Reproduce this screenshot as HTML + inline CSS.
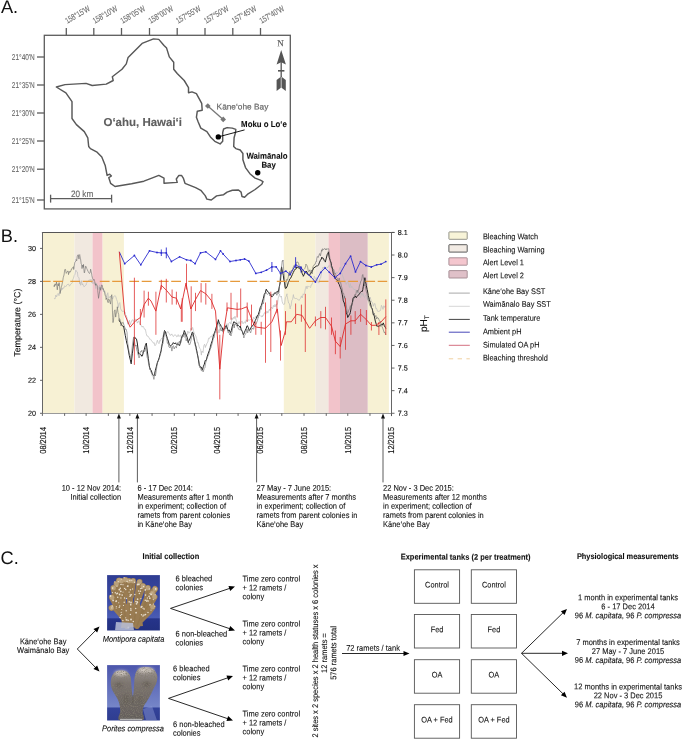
<!DOCTYPE html>
<html><head><meta charset="utf-8"><style>
html,body{margin:0;padding:0;background:#fff;}
svg{display:block;font-family:"Liberation Sans", sans-serif;will-change:transform;}
text{stroke:currentColor;stroke-width:0.13px;}
</style></head><body>
<svg width="685" height="742" viewBox="0 0 685 742">
<rect width="685" height="742" fill="#fff"/>
<text transform="translate(0.9,12.9) rotate(0.03)" font-size="18.2" fill="#111" color="#111" style="stroke:none">A.</text>
<text transform="translate(0.8,242.1) rotate(0.03)" font-size="18.2" fill="#111" color="#111" style="stroke:none">B.</text>
<text transform="translate(0.5,564.1) rotate(0.03)" font-size="18.2" fill="#111" color="#111" style="stroke:none">C.</text>
<rect x="44.3" y="35.3" width="246" height="173.6" fill="none" stroke="#5c5c5c" stroke-width="1.3"/>
<line x1="66.3" y1="28" x2="66.3" y2="35.3" stroke="#5c5c5c" stroke-width="1.3" />
<text transform="translate(67.2,23.8) rotate(-30) rotate(0.03)" font-size="8.4" fill="#666" style="stroke-width:0.1px" textLength="27" lengthAdjust="spacingAndGlyphs" color="#666">158°15'W</text>
<line x1="93.8" y1="28" x2="93.8" y2="35.3" stroke="#5c5c5c" stroke-width="1.3" />
<text transform="translate(94.7,23.8) rotate(-30) rotate(0.03)" font-size="8.4" fill="#666" style="stroke-width:0.1px" textLength="27" lengthAdjust="spacingAndGlyphs" color="#666">158°10'W</text>
<line x1="121.5" y1="28" x2="121.5" y2="35.3" stroke="#5c5c5c" stroke-width="1.3" />
<text transform="translate(122.4,23.8) rotate(-30) rotate(0.03)" font-size="8.4" fill="#666" style="stroke-width:0.1px" textLength="27" lengthAdjust="spacingAndGlyphs" color="#666">158°05'W</text>
<line x1="149.5" y1="28" x2="149.5" y2="35.3" stroke="#5c5c5c" stroke-width="1.3" />
<text transform="translate(150.4,23.8) rotate(-30) rotate(0.03)" font-size="8.4" fill="#666" style="stroke-width:0.1px" textLength="27" lengthAdjust="spacingAndGlyphs" color="#666">158°00'W</text>
<line x1="177.2" y1="28" x2="177.2" y2="35.3" stroke="#5c5c5c" stroke-width="1.3" />
<text transform="translate(178.1,23.8) rotate(-30) rotate(0.03)" font-size="8.4" fill="#666" style="stroke-width:0.1px" textLength="27" lengthAdjust="spacingAndGlyphs" color="#666">157°55'W</text>
<line x1="205" y1="28" x2="205" y2="35.3" stroke="#5c5c5c" stroke-width="1.3" />
<text transform="translate(205.9,23.8) rotate(-30) rotate(0.03)" font-size="8.4" fill="#666" style="stroke-width:0.1px" textLength="27" lengthAdjust="spacingAndGlyphs" color="#666">157°50'W</text>
<line x1="232.8" y1="28" x2="232.8" y2="35.3" stroke="#5c5c5c" stroke-width="1.3" />
<text transform="translate(233.70000000000002,23.8) rotate(-30) rotate(0.03)" font-size="8.4" fill="#666" style="stroke-width:0.1px" textLength="27" lengthAdjust="spacingAndGlyphs" color="#666">157°45'W</text>
<line x1="260.5" y1="28" x2="260.5" y2="35.3" stroke="#5c5c5c" stroke-width="1.3" />
<text transform="translate(261.4,23.8) rotate(-30) rotate(0.03)" font-size="8.4" fill="#666" style="stroke-width:0.1px" textLength="27" lengthAdjust="spacingAndGlyphs" color="#666">157°40'W</text>
<line x1="37" y1="57" x2="44.3" y2="57" stroke="#5c5c5c" stroke-width="1.3" />
<text transform="translate(34.8,60.0) rotate(0.03)" font-size="8.5" fill="#666" color="#666" text-anchor="end" textLength="23" lengthAdjust="spacingAndGlyphs" style="stroke-width:0.1px">21°40'N</text>
<line x1="37" y1="85" x2="44.3" y2="85" stroke="#5c5c5c" stroke-width="1.3" />
<text transform="translate(34.8,88.0) rotate(0.03)" font-size="8.5" fill="#666" color="#666" text-anchor="end" textLength="23" lengthAdjust="spacingAndGlyphs" style="stroke-width:0.1px">21°35'N</text>
<line x1="37" y1="113" x2="44.3" y2="113" stroke="#5c5c5c" stroke-width="1.3" />
<text transform="translate(34.8,116.0) rotate(0.03)" font-size="8.5" fill="#666" color="#666" text-anchor="end" textLength="23" lengthAdjust="spacingAndGlyphs" style="stroke-width:0.1px">21°30'N</text>
<line x1="37" y1="141" x2="44.3" y2="141" stroke="#5c5c5c" stroke-width="1.3" />
<text transform="translate(34.8,144.0) rotate(0.03)" font-size="8.5" fill="#666" color="#666" text-anchor="end" textLength="23" lengthAdjust="spacingAndGlyphs" style="stroke-width:0.1px">21°25'N</text>
<line x1="37" y1="169.2" x2="44.3" y2="169.2" stroke="#5c5c5c" stroke-width="1.3" />
<text transform="translate(34.8,172.2) rotate(0.03)" font-size="8.5" fill="#666" color="#666" text-anchor="end" textLength="23" lengthAdjust="spacingAndGlyphs" style="stroke-width:0.1px">21°20'N</text>
<line x1="37" y1="200" x2="44.3" y2="200" stroke="#5c5c5c" stroke-width="1.3" />
<text transform="translate(34.8,203.0) rotate(0.03)" font-size="8.5" fill="#666" color="#666" text-anchor="end" textLength="23" lengthAdjust="spacingAndGlyphs" style="stroke-width:0.1px">21°15'N</text>
<path d="M56.3,87.0 L65.0,84.6 L86.0,83.4 L92.2,85.5 L106.2,84.1 L113.2,80.5 L112.3,76.7 L122.0,69.2 L126.3,63.9 L128.1,57.4 L142.1,43.4 L153.5,38.9 L158.8,39.4 L164.0,45.5 L166.6,48.1 L169.3,56.9 L173.7,62.2 L173.7,69.2 L177.2,73.5 L184.2,80.5 L188.5,87.6 L188.5,92.8 L192,91.9 L196.4,93.7 L201.7,103.3 L202.2,110.3 L197.3,111.2 L196.4,117.3 L198.2,122 L200.8,128.1 L206.9,131.6 L210.4,136.9 L214.8,141.3 L220.1,143.9 L222.7,141.3 L222.7,132.5 L223.6,129 L227.1,127.6 L232.3,128.1 L235.8,129.4 L235.5,132.5 L234.1,137.8 L233.7,146.5 L235.8,148.6 L240.2,150 L242.9,153.5 L242.9,159.7 L245.5,167.6 L249.9,173.7 L255.1,178.1 L260.4,180.2 L263,181.6 L261.8,184.2 L255.1,189.5 L248.1,193.8 L244.6,197.3 L242,196.5 L241.1,192.1 L238.5,190 L232.3,190.3 L227.1,192.1 L223.6,194.7 L216.6,195.9 L211.3,200 L206.9,199.1 L205.2,195.6 L200.8,190.3 L195.6,187.7 L185,183.3 L183.3,178.1 L181.5,175.4 L178.9,175.4 L176.3,179 L177.2,182.4 L164,183.3 L164,178.1 L158.8,175.4 L151.8,178.1 L143.9,181.2 L131.6,183.7 L115,186.5 L110.6,183.3 L108.8,177.7 L111.4,176 L109.7,174.2 L107.1,175.4 L105.3,165.8 L101.8,157 L96.6,151.8 L90.4,148.6 L88.7,146.5 L87.8,137.8 L84.3,131.6 L76.4,124.6 L72,118.5 L72,101.6 L65.9,92.8 L56.3,87.0Z" fill="none" stroke="#585858" stroke-width="1.45" stroke-linejoin="round"/>
<line x1="50.1" y1="198.7" x2="112" y2="198.7" stroke="#5c5c5c" stroke-width="1.3" />
<line x1="50.6" y1="194.7" x2="50.6" y2="202.6" stroke="#5c5c5c" stroke-width="1.3" />
<line x1="111.6" y1="194.7" x2="111.6" y2="202.6" stroke="#5c5c5c" stroke-width="1.3" />
<text transform="translate(71,196.7) rotate(0.03)" font-size="9.4" fill="#666" color="#666" textLength="22.2" lengthAdjust="spacingAndGlyphs" >20 km</text>
<text transform="translate(103.5,126) rotate(0.03)" font-size="11.5" fill="#5e5e5e" color="#5e5e5e" font-weight="bold" textLength="78.5" lengthAdjust="spacingAndGlyphs" >O‘ahu, Hawai‘i</text>
<line x1="207.8" y1="106" x2="223.2" y2="119.4" stroke="#777" stroke-width="1.3" />
<path d="M207.8,103.2 L210.6,106 L207.8,108.8 L205,106Z" fill="#777"/>
<path d="M223.2,116.6 L226,119.4 L223.2,122.2 L220.4,119.4Z" fill="#777"/>
<text transform="translate(216.6,109.5) rotate(0.03)" font-size="8.3" fill="#6a6a6a" color="#6a6a6a" textLength="51.7" lengthAdjust="spacingAndGlyphs" style="stroke-width:0.2px">Kāne‘ohe Bay</text>
<circle cx="218.3" cy="136.9" r="2.7" fill="#000"/>
<line x1="218.3" y1="136.9" x2="244.6" y2="129.9" stroke="#000" stroke-width="0.9" />
<text transform="translate(241.1,126.9) scale(0.9091,1) rotate(0.03)" font-size="8.63" fill="#111" color="#111" style="stroke-width:0.1px" font-weight="bold" >Moku o Lo‘e</text>
<circle cx="257.7" cy="172.8" r="2.7" fill="#000"/>
<text transform="translate(246.4,158.8) scale(0.9091,1) rotate(0.03)" font-size="8.63" fill="#111" color="#111" style="stroke-width:0.1px" font-weight="bold" >Waimānalo</text>
<text transform="translate(261.4,167.8) scale(0.9091,1) rotate(0.03)" font-size="8.63" fill="#111" color="#111" style="stroke-width:0.1px" font-weight="bold" >Bay</text>
<text transform="translate(280.6,46.3) rotate(0.03)" font-size="9" font-family="Liberation Serif, serif" fill="#555" text-anchor="middle" color="#555">N</text>
<path d="M281.2,50 L285.9,64.5 L281.2,62.3 L276.6,64.5Z" fill="#555"/>
<line x1="281.2" y1="62" x2="281.2" y2="78" stroke="#555" stroke-width="1.3" />
<line x1="278" y1="70.8" x2="284.4" y2="70.8" stroke="#555" stroke-width="1.6" />
<path d="M276.6,80 L281.2,76.6 L285.8,80 L285.8,91 L281.2,87.5 L276.6,91Z" fill="#555"/>
<line x1="281.2" y1="77" x2="281.2" y2="88" stroke="#ccc" stroke-width="1" />
<rect x="42.4" y="232.2" width="32.10" height="181.10" fill="#f7f1d4"/>
<rect x="74.5" y="232.2" width="18.00" height="181.10" fill="#f1e9e0"/>
<rect x="92.5" y="232.2" width="10.10" height="181.10" fill="#f2c3ca"/>
<rect x="102.6" y="232.2" width="21.30" height="181.10" fill="#f7f1d4"/>
<rect x="283.8" y="232.2" width="31.70" height="181.10" fill="#f7f1d4"/>
<rect x="315.5" y="232.2" width="13.00" height="181.10" fill="#f1e9e0"/>
<rect x="328.5" y="232.2" width="11.50" height="181.10" fill="#f2c3ca"/>
<rect x="340" y="232.2" width="27.80" height="181.10" fill="#dcbdc5"/>
<rect x="367.8" y="232.2" width="21.10" height="181.10" fill="#f7f1d4"/>
<polyline points="54.2,298.4 54.2,298.3 55.0,299.1 55.8,295.1 56.6,296.9 57.3,294.7 57.4,294.2 58.2,293.4 59.0,295.7 59.7,292.3 59.8,292.3 60.6,290.6 61.4,290.3 62.1,288.0 62.2,289.5 63.0,287.7 63.8,288.3 64.6,285.8 65.4,286.4 65.8,286.8 66.2,286.1 67.0,284.7 67.8,284.4 68.6,284.1 69.4,285.9 69.4,286.2 70.2,285.0 71.0,283.8 71.8,283.4 72.4,282.6 72.6,279.9 73.4,278.4 74.2,275.6 74.2,275.3 75.0,274.3 75.8,270.1 76.1,270.5 76.6,271.6 77.4,272.0 77.9,276.5 78.2,277.0 79.0,277.9 79.7,283.8 79.8,281.8 80.6,285.3 81.4,280.7 82.2,284.9 82.7,283.8 83.0,285.0 83.8,286.1 83.9,286.8 84.6,286.4 85.4,285.4 86.2,285.0 86.4,283.2 87.0,282.4 87.8,281.3 88.6,280.7 88.8,281.4 89.4,279.7 90.2,280.6 91.0,279.2 91.2,280.2 91.8,282.9 92.6,280.4 93.0,283.8 93.4,282.6 94.2,283.4 95.0,282.4 95.8,288.6 96.1,286.2 96.6,283.0 97.4,286.3 98.2,286.3 99.0,289.7 99.8,284.9 100.6,289.5 101.4,287.3 102.1,288.6 102.2,288.5 103.0,289.0 103.8,292.0 104.6,290.7 105.4,293.4 106.2,295.2 107.0,298.5 107.0,295.9 107.8,292.7 108.6,298.4 109.4,297.8 110.2,296.0 111.0,297.3 111.8,296.4 111.8,297.1 112.6,299.1 113.4,296.9 114.2,296.0 115.0,295.7 115.5,295.9 115.8,296.7 116.6,299.5 117.4,301.4 117.9,304.4 118.2,307.8 119.0,303.6 119.8,302.6 120.6,308.8 121.4,310.1 121.5,310.5 122.2,311.4 123.0,310.9 123.8,311.4 124.6,312.5 125.2,312.3 125.4,314.4 126.2,315.2 127.0,318.1 127.8,324.2 127.9,321.8 128.6,322.5 129.4,320.2 130.2,324.8 131.0,322.5 131.8,320.5 132.6,319.6 133.4,321.6 134.2,319.9 135.0,319.5 135.8,319.1 136.5,320.8 136.6,320.2 137.4,323.1 138.2,321.6 139.0,320.8 139.8,324.5 140.6,324.3 141.4,326.1 142.2,327.2 143.0,326.0 143.0,326.2 143.8,327.6 144.6,329.3 145.4,329.4 146.2,333.5 147.0,336.1 147.8,336.0 148.6,337.0 149.4,338.5 149.5,339.1 150.2,338.9 151.0,339.8 151.8,341.3 152.6,341.7 153.4,343.2 154.2,342.6 154.8,345.5 155.0,345.8 155.8,344.8 156.6,342.5 157.4,340.2 158.2,342.8 159.0,343.7 159.8,340.5 160.2,341.2 160.6,339.9 161.4,338.5 162.2,338.9 163.0,335.5 163.8,336.8 164.6,333.8 165.4,334.2 165.6,332.6 166.2,332.9 167.0,332.8 167.8,331.4 168.6,332.9 169.4,333.8 170.2,335.4 171.0,334.8 171.0,335.1 171.8,333.9 172.6,335.6 173.4,336.6 174.2,335.1 175.0,334.8 175.8,335.0 176.6,336.8 177.4,336.5 177.5,335.8 178.2,334.6 179.0,336.6 179.8,335.5 180.6,335.2 181.4,338.2 182.2,337.7 183.0,335.7 183.8,336.9 184.6,337.6 185.0,337.0 185.4,335.6 186.2,335.4 187.0,335.5 187.8,331.1 188.6,332.6 188.6,333.1 189.4,332.8 190.2,331.7 191.0,328.3 191.8,329.8 192.6,327.4 192.9,328.3 193.4,330.6 194.2,333.0 195.0,334.9 195.8,335.9 196.6,338.6 197.2,341.2 197.4,342.9 198.2,342.5 199.0,346.4 199.8,348.4 200.6,349.3 201.4,355.1 201.5,352.0 202.2,351.0 203.0,352.7 203.8,345.7 204.6,344.2 205.4,347.5 205.8,345.5 206.2,345.7 207.0,343.1 207.8,342.1 208.6,338.2 209.4,338.7 210.2,336.8 211.0,336.6 211.8,336.9 212.3,334.8 212.6,334.7 213.4,334.6 214.2,332.6 215.0,332.4 215.8,332.6 216.6,331.6 217.4,333.2 218.2,329.7 218.8,330.5 219.0,333.0 219.8,328.6 220.6,331.1 221.4,328.1 222.2,331.1 223.0,328.6 223.8,328.6 224.6,328.6 225.4,326.3 226.2,325.3 227.0,323.6 227.4,326.2 227.8,327.4 228.6,323.6 229.4,322.7 230.2,322.4 231.0,324.1 231.8,317.8 232.6,319.5 233.4,317.5 233.8,317.5 234.2,318.6 235.0,316.2 235.8,318.9 236.6,321.5 237.4,323.3 238.2,324.1 239.0,321.5 239.8,323.6 240.3,324.0 240.6,323.7 241.4,321.6 242.2,321.1 243.0,323.8 243.8,322.7 244.6,321.8 245.0,321.8 245.4,323.3 246.2,319.8 247.0,321.5 247.8,320.4 248.6,319.9 249.4,320.3 250.2,319.4 251.0,319.2 251.8,318.8 252.6,320.7 253.4,317.2 253.6,317.5 254.2,318.8 255.0,318.0 255.8,316.5 256.6,317.9 257.4,315.4 258.2,318.0 259.0,315.0 259.8,315.3 260.6,316.2 261.4,316.8 262.2,315.4 262.2,316.7 263.0,316.1 263.8,314.1 264.6,312.5 265.4,314.1 266.2,313.2 267.0,310.9 267.8,313.1 268.6,311.4 268.7,311.1 269.4,309.2 270.2,310.6 271.0,307.5 271.8,307.5 272.6,308.7 273.4,305.4 274.2,307.0 275.0,304.4 275.8,306.8 276.6,304.1 277.3,304.6 277.4,304.4 278.2,298.1 279.0,295.8 279.5,293.8 279.8,295.9 280.6,297.2 281.4,296.0 282.2,301.9 283.0,303.8 283.8,304.6 283.8,304.1 284.6,303.9 285.4,297.7 286.2,296.4 287.0,293.8 287.0,295.4 287.8,299.4 288.6,303.1 289.4,303.6 290.2,308.9 290.2,306.4 291.0,306.3 291.8,300.6 292.6,299.3 293.4,294.6 293.5,296.0 294.2,298.1 295.0,298.3 295.8,298.6 296.6,298.5 297.4,299.2 298.2,299.4 298.8,300.3 299.0,300.5 299.8,299.2 300.6,298.3 301.4,295.9 302.2,297.9 303.0,294.5 303.2,293.8 303.8,294.7 304.6,293.2 305.4,288.7 306.2,286.2 307.0,288.9 307.5,286.3 307.8,285.9 308.6,286.8 309.4,286.6 310.2,287.4 310.7,287.4 311.0,285.1 311.8,284.8 312.6,282.5 313.4,281.3 314.2,276.2 315.0,277.7 315.0,278.8 315.8,279.4 316.6,277.7 317.4,280.3 318.2,282.5 318.6,283.1 319.0,282.6 319.8,278.9 320.6,278.0 321.4,273.3 322.2,269.1 322.9,268.0 323.0,267.0 323.8,268.7 324.6,266.6 325.4,268.3 326.2,268.3 327.0,267.4 327.8,267.8 328.6,265.8 329.4,265.8 329.4,265.8 330.2,265.9 331.0,266.8 331.8,266.5 332.6,268.8 333.4,269.1 334.2,269.5 335.0,272.7 335.8,273.4 335.8,274.0 336.6,271.9 337.4,273.4 338.2,271.8 339.0,270.9 339.8,267.6 340.2,268.0 340.6,267.1 341.4,272.2 342.2,274.1 343.0,277.0 343.8,278.8 344.6,282.3 345.4,282.4 345.5,283.1 346.2,284.4 347.0,282.7 347.8,281.2 348.6,284.3 349.4,287.5 350.2,283.5 350.9,286.3 351.0,287.8 351.8,286.2 352.6,287.4 353.4,288.9 354.2,289.9 355.0,289.0 355.8,291.4 356.3,291.7 356.6,292.5 357.4,293.5 358.2,291.8 359.0,295.5 359.8,296.4 360.6,297.6 361.4,292.8 361.7,294.9 362.2,295.4 363.0,293.1 363.8,296.7 364.6,297.4 365.4,295.6 366.2,295.4 367.0,298.4 367.1,298.2 367.8,299.6 368.6,298.3 369.4,299.7 370.2,297.2 371.0,300.4 371.8,302.2 372.5,302.6 372.6,303.0 373.4,306.3 374.2,303.8 375.0,303.5 375.8,308.6 376.6,308.4 377.4,311.0 377.8,311.2 378.2,311.8 379.0,310.8 379.8,311.2 380.6,310.3 381.4,305.3 382.1,306.9 382.2,306.8 383.0,309.4 383.8,305.7 384.6,307.4 385.3,305.8" fill="none" stroke="#bdbdbd" stroke-width="0.7" stroke-linejoin="round" />
<polyline points="119.3,320.1 119.3,320.8 120.3,322.2 121.3,324.2 122.3,325.6 123.3,326.7 123.6,326.2 124.3,330.0 125.3,335.6 126.3,340.5 126.8,343.4 127.3,344.8 128.3,350.0 129.3,355.7 130.3,359.8 131.2,363.8 131.3,362.7 132.3,353.8 133.3,346.1 134.3,337.3 134.4,336.9 135.3,337.9 136.3,339.2 136.5,339.1 137.3,343.0 138.3,351.4 138.7,354.2 139.3,353.6 140.3,354.6 141.3,355.0 141.9,356.3 142.3,355.9 143.3,352.6 144.3,349.4 145.3,345.6 146.2,343.4 146.3,343.1 147.3,351.0 148.3,358.6 149.3,365.6 149.5,367.1 150.3,369.2 151.3,370.5 152.3,374.0 153.3,375.2 153.8,375.7 154.3,375.3 155.3,370.6 156.3,366.8 157.3,362.8 158.1,360.6 158.3,360.5 159.3,357.3 160.3,353.3 161.3,350.1 161.3,349.8 162.3,343.6 163.3,337.4 164.3,331.5 164.5,330.5 165.3,331.4 166.3,334.8 167.3,338.3 168.3,341.1 169.3,344.6 169.9,345.5 170.3,345.8 171.3,345.2 172.3,344.6 173.3,342.6 174.3,343.8 175.3,342.8 175.3,343.4 176.3,344.2 177.3,344.2 178.3,344.6 179.3,345.0 179.6,345.5 180.3,343.1 181.3,338.7 182.3,335.8 183.3,334.5 184.3,330.8 184.3,330.5 185.3,332.7 186.3,335.2 187.3,337.7 188.3,342.7 188.6,341.2 189.3,340.2 190.3,337.8 191.3,335.3 192.3,332.1 192.9,332.6 193.3,334.5 194.3,340.0 195.3,344.2 196.2,347.7 196.3,348.5 197.3,353.6 198.3,358.9 199.3,365.5 199.4,366.0 200.3,366.6 201.3,367.1 202.3,370.0 202.6,369.2 203.3,366.7 204.3,364.2 205.3,360.3 205.8,360.6 206.3,360.3 207.3,356.1 208.3,353.2 209.3,350.5 210.2,347.7 210.3,346.8 211.3,343.4 212.3,340.5 213.3,336.2 214.3,333.5 214.5,332.6 215.3,330.7 216.3,327.0 217.3,324.1 218.3,320.4 218.3,319.7 219.3,323.2 220.3,324.4 221.3,326.7 222.3,327.9 223.1,330.5 223.3,330.1 224.3,328.4 225.3,327.5 226.3,325.5 226.3,326.2 227.3,327.9 228.3,331.0 229.3,330.1 230.3,332.5 230.6,332.6 231.3,330.7 232.3,326.3 233.3,323.3 233.8,321.8 234.3,321.8 235.3,323.1 236.3,323.0 237.1,324.0 237.3,325.9 238.3,325.4 239.3,326.3 240.3,327.7 240.3,326.2 241.3,329.8 242.3,331.5 243.3,334.5 243.5,334.8 244.3,332.7 245.3,330.3 246.3,328.2 246.8,326.2 247.3,325.7 248.3,327.6 249.3,330.3 249.3,330.5 250.3,329.3 251.3,327.1 252.3,325.8 253.3,325.2 253.6,324.0 254.3,323.1 255.3,320.5 256.3,318.4 257.3,315.6 257.9,315.4 258.3,314.5 259.3,311.3 260.3,307.5 261.3,305.5 262.2,302.5 262.3,301.9 263.3,298.6 264.3,294.3 265.3,292.8 266.1,289.5 266.3,289.2 267.3,291.1 268.3,292.2 269.3,292.8 269.8,293.8 270.3,294.5 271.3,296.0 271.9,297.1 272.3,296.4 273.3,295.4 274.3,293.5 275.2,292.8 275.3,293.2 276.3,292.5 277.3,291.2 278.3,292.0 278.4,291.7 279.3,286.7 280.3,282.2 280.5,280.9 281.3,269.0 281.6,266.9 282.3,271.2 283.3,275.2 283.8,279.8 284.3,281.5 285.3,288.2 285.9,288.5 286.3,288.0 287.3,285.9 288.3,282.4 289.2,280.9 289.3,279.8 290.3,278.6 291.3,276.9 292.3,274.6 292.4,274.5 293.3,272.4 294.3,270.5 295.3,269.0 296.3,268.7 296.7,266.9 297.3,267.3 298.3,267.7 299.3,268.4 299.9,269.1 300.3,269.1 301.3,270.8 302.3,273.8 303.2,275.5 303.3,276.3 304.3,274.3 305.3,271.7 306.3,272.4 306.4,271.2 307.3,272.6 308.3,275.0 309.3,275.0 309.6,275.5 310.3,273.4 311.3,272.9 312.3,271.1 313.3,268.8 314.3,267.4 314.3,268.0 315.3,266.9 316.3,265.9 317.3,266.2 318.3,265.2 318.6,264.8 319.3,262.8 320.3,260.5 321.3,259.0 321.8,257.2 322.3,258.1 323.3,258.3 324.3,260.6 325.1,261.5 325.3,262.1 326.3,258.1 327.3,254.2 328.3,252.9 328.3,251.8 329.3,257.9 330.3,260.6 331.3,263.3 331.5,265.8 332.3,267.7 333.3,273.6 334.3,275.8 334.8,277.7 335.3,278.7 336.3,279.6 337.3,280.3 338.0,280.9 338.3,282.9 339.3,284.6 340.3,287.5 341.2,289.5 341.3,290.2 342.3,294.8 343.3,300.9 344.3,303.0 344.5,304.6 345.3,307.0 346.3,312.7 347.3,315.1 347.7,317.5 348.3,316.8 349.3,314.4 349.8,314.3 350.3,312.6 351.3,307.0 352.3,302.6 353.1,298.2 353.3,297.7 354.3,297.7 355.3,295.9 356.3,297.7 356.3,297.1 357.3,296.4 358.3,295.1 359.3,294.1 359.5,293.8 360.3,292.5 361.3,291.4 362.3,291.5 362.8,289.5 363.3,286.3 364.3,280.8 364.9,277.7 365.3,280.4 366.3,285.4 367.1,289.5 367.3,289.9 368.3,295.6 369.3,299.7 370.3,302.3 370.3,302.5 371.3,307.5 372.3,308.9 373.3,314.7 373.5,314.3 374.3,316.1 375.3,321.1 376.3,324.3 376.8,326.2 377.3,326.0 378.3,326.7 379.3,325.6 379.9,326.3 380.3,325.4 381.3,324.2 382.3,325.1 383.2,323.1 383.3,322.9 384.3,325.7 385.3,327.3 385.8,328.5" fill="none" stroke="#1a1a1a" stroke-width="0.95" stroke-linejoin="round" />
<polyline points="54.2,285.0 54.2,286.8 55.0,283.9 55.7,285.4 56.1,283.8 56.5,282.1 57.2,289.1 57.3,289.8 58.0,283.8 58.7,285.9 59.1,282.6 59.5,285.7 60.2,293.5 60.3,292.3 61.0,288.2 61.5,286.2 61.7,286.0 62.5,282.0 62.7,281.4 63.2,277.8 63.9,275.3 64.0,275.3 64.7,269.7 65.2,269.2 65.5,269.4 66.2,273.3 66.4,272.9 67.0,272.4 67.7,271.0 68.2,271.1 68.5,274.6 69.2,271.9 70.0,271.4 70.0,272.3 70.7,271.3 71.5,269.0 71.8,269.2 72.2,268.1 73.0,267.1 73.6,266.8 73.7,269.5 74.5,263.9 74.8,262.6 75.2,261.9 76.0,260.9 76.1,259.5 76.7,260.7 77.3,255.9 77.5,255.5 78.2,254.7 79.0,259.1 79.1,255.3 79.7,254.6 80.3,258.3 80.5,258.5 81.2,263.9 81.5,264.4 82.0,268.6 82.7,265.0 83.3,267.4 83.5,264.4 84.2,272.5 84.5,272.9 85.0,269.8 85.7,266.1 85.8,266.2 86.5,268.2 87.0,268.6 87.2,269.4 88.0,271.3 88.7,272.0 88.8,272.9 89.5,273.5 90.2,272.3 90.6,269.2 91.0,271.0 91.7,274.1 91.8,275.3 92.5,278.2 93.2,279.8 93.6,280.2 94.0,279.3 94.7,281.6 95.5,285.3 95.5,283.8 96.2,284.6 97.0,285.2 97.3,286.2 97.7,290.6 98.5,297.7 98.5,298.3 99.2,294.1 99.7,291.1 100.0,287.4 100.7,290.3 101.5,285.5 101.5,285.0 102.2,285.1 103.0,289.4 103.3,288.6 103.7,290.2 104.5,292.0 105.2,295.7 105.8,295.9 106.0,299.5 106.7,298.1 107.5,300.8 108.2,302.7 108.2,299.5 109.0,299.1 109.7,301.0 110.5,304.1 110.6,303.2 111.2,296.4 111.8,294.7 112.0,297.8 112.7,317.6 113.0,322.6 113.5,320.1 114.2,312.6 114.2,311.7 115.0,309.8 115.7,317.1 116.1,314.1 116.5,312.8 117.2,308.6 117.3,306.8 118.0,312.4 118.7,314.6 119.1,320.2 119.5,318.6 120.2,320.0 121.0,325.9 121.5,323.8 121.7,322.4 122.5,322.8 123.2,322.3 123.3,322.6 123.3,322.6 124.0,325.2 124.7,327.2 125.5,328.9 126.0,330.0 126.2,329.6 127.0,332.4 127.7,343.0 128.0,345.0 128.4,347.7 129.2,352.8 129.9,354.6 130.7,357.6 131.0,360.0 131.4,356.7 132.2,347.1 132.9,341.3 133.5,338.0 133.7,337.1 134.4,341.1 135.2,345.9 135.9,346.0 136.0,345.0 136.7,349.7 137.4,351.6 138.2,355.0 138.9,357.1 139.0,358.0 139.7,356.2 140.4,351.5 141.2,351.8 141.9,350.2 142.0,352.0 142.7,352.6 143.4,351.5 144.2,351.5 144.9,351.4 145.7,347.8 146.0,348.0 146.4,352.1 147.2,357.5 147.9,358.7 148.7,364.5 149.4,366.7 150.0,370.0 150.2,368.0 150.9,372.3 151.7,372.6 152.4,375.7 153.2,376.5 153.9,379.4 154.0,379.0 154.7,372.8 155.4,376.0 156.2,371.7 156.9,365.9 157.7,361.9 158.0,362.0 158.4,360.5 159.2,359.0 159.9,356.1 160.7,353.6 161.0,352.0 161.4,346.7 162.2,344.1 162.9,344.0 163.7,338.5 164.4,332.0 164.5,334.0 165.2,334.5 165.9,335.5 166.7,338.1 167.4,343.3 168.2,343.1 168.9,347.0 169.7,347.5 170.0,348.0 170.4,345.6 171.2,346.8 171.9,351.1 172.7,346.3 173.4,345.7 174.2,349.0 174.9,347.1 175.0,347.0 175.7,346.4 176.4,348.1 177.2,342.6 177.9,345.3 178.7,342.4 179.4,341.3 180.0,343.0 180.2,341.3 180.9,342.6 181.7,339.0 182.4,334.7 183.2,334.2 183.9,336.6 184.5,333.0 184.7,335.1 185.4,333.7 186.2,340.9 186.9,338.4 187.7,339.0 188.4,342.4 189.0,344.0 189.2,345.0 189.9,344.3 190.7,341.8 191.4,337.8 192.2,335.9 192.9,332.9 193.0,335.0 193.7,338.2 194.4,340.9 195.2,345.6 195.9,346.8 196.0,349.0 196.7,351.5 197.4,354.5 198.2,357.6 198.9,361.2 199.7,365.0 200.0,368.0 200.4,366.8 201.2,370.5 201.9,370.8 202.7,369.6 203.0,372.0 203.4,371.3 204.2,368.4 204.9,367.7 205.7,362.7 206.0,362.0 206.4,360.3 207.2,357.3 207.9,356.3 208.7,354.7 209.4,351.9 210.0,350.0 210.2,349.0 210.9,347.9 211.7,344.9 212.4,342.8 213.2,338.6 213.9,338.0 214.5,336.0 214.7,333.7 215.4,331.2 216.2,330.0 216.9,330.2 217.7,325.7 218.3,322.0 218.4,322.3 219.2,323.6 219.9,327.0 220.7,329.2 221.4,330.6 222.2,330.0 222.9,332.2 223.0,332.0 223.7,330.8 224.4,330.1 225.2,328.5 225.9,328.7 226.0,329.0 226.7,326.7 227.4,329.2 228.2,332.7 228.9,331.7 229.7,335.0 230.4,333.2 231.0,336.0 231.2,334.6 231.9,332.8 232.7,327.6 233.4,325.1 234.0,324.0 234.2,328.0 234.9,323.7 235.7,324.3 236.4,325.2 237.2,326.7 237.9,327.3 238.7,329.4 239.4,329.8 240.0,329.0 240.2,328.8 240.9,330.4 241.7,330.2 242.4,331.6 243.2,334.3 243.9,338.0 244.0,337.0 244.7,335.3 245.4,334.4 246.2,332.6 246.9,328.9 247.0,329.0 247.7,332.9 248.4,329.6 249.2,330.2 249.9,331.3 250.0,332.0 250.7,332.9 251.4,330.0 252.2,328.1 252.9,329.0 253.7,329.1 254.0,327.0 254.4,325.8 255.2,323.9 255.9,324.3 256.7,322.4 257.4,320.7 258.0,318.0 258.2,316.2 258.9,315.3 259.7,313.0 260.4,307.3 261.2,309.4 261.9,305.3 262.0,305.0 262.7,302.2 263.4,303.8 264.2,298.1 264.9,294.3 265.7,292.9 266.0,292.0 266.4,293.3 267.2,294.4 267.9,293.9 268.7,293.4 269.4,294.4 270.0,296.0 270.2,294.7 270.9,294.0 271.7,295.3 272.4,294.3 273.2,294.8 273.9,293.2 274.7,292.8 275.0,294.0 275.4,293.6 276.2,293.2 276.9,295.3 277.7,291.9 278.4,293.5 279.0,293.0 279.2,290.6 279.9,280.1 280.7,274.6 281.0,270.0 281.4,268.0 282.2,260.8 282.9,261.2 283.0,260.0 283.7,270.2 284.4,276.9 285.0,285.0 285.2,287.1 285.9,283.1 286.7,279.4 287.4,280.3 288.2,277.2 288.9,274.1 289.0,276.0 289.7,271.3 290.4,273.5 291.2,270.5 291.9,271.1 292.0,270.0 292.7,269.4 293.4,266.7 294.2,265.4 294.9,267.7 295.7,266.3 296.4,263.6 296.7,262.0 297.2,262.1 297.9,262.0 298.7,263.8 299.4,267.9 300.0,266.0 300.2,267.1 300.9,267.5 301.7,267.5 302.4,271.2 303.0,272.0 303.2,270.1 303.9,269.5 304.7,268.6 305.4,267.1 306.0,264.0 306.2,264.6 306.9,265.4 307.7,267.7 308.4,271.7 309.2,271.0 309.9,269.8 310.0,272.0 310.7,273.2 311.4,270.0 312.2,273.8 312.9,266.5 313.7,265.9 314.4,264.4 315.2,264.2 315.9,261.5 316.5,261.5 316.7,258.8 317.4,256.5 318.2,257.5 318.9,255.3 319.7,253.5 320.4,255.9 321.2,252.2 321.8,249.7 321.9,251.3 322.7,248.7 323.4,249.7 324.2,248.8 324.9,248.6 325.7,249.9 326.2,248.6 326.4,249.5 327.2,249.1 327.9,248.8 328.3,248.6 328.7,248.8 329.4,254.4 330.2,260.7 330.9,264.1 331.5,268.0 331.7,267.1 332.4,270.0 333.2,269.2 333.9,270.7 334.7,274.2 335.4,273.4 335.8,274.5 336.2,277.5 336.9,277.5 337.7,279.4 338.4,281.4 339.2,277.9 339.9,282.5 340.2,283.1 340.7,282.6 341.4,286.1 342.2,288.9 342.9,293.2 343.7,293.5 344.4,298.3 344.5,296.0 345.2,299.0 345.9,303.7 346.7,308.0 347.4,313.3 347.7,313.2 348.2,312.1 348.9,309.8 349.7,308.7 350.4,305.6 350.9,306.8 351.2,307.9 351.9,304.9 352.7,302.3 353.4,299.9 354.2,296.4 354.9,294.5 355.0,295.0 355.7,295.1 356.4,291.4 357.2,290.1 357.9,292.5 358.0,290.0 358.7,290.1 359.4,285.8 360.2,283.7 360.9,280.8 361.7,280.2 362.4,275.0 362.8,274.5 363.2,276.5 363.9,280.7 364.7,285.8 365.0,285.0 365.4,286.8 366.2,291.1 366.9,293.6 367.7,296.9 368.2,300.3 368.4,299.9 369.2,302.8 369.9,305.8 370.7,305.1 371.4,307.1 372.2,309.1 372.9,312.0 373.7,314.3 374.4,313.2 374.6,315.4 375.2,316.6 375.9,315.5 376.7,319.0 377.4,317.3 378.2,318.0 378.9,319.5 379.7,321.4 380.0,321.8 380.4,321.3 381.2,324.9 381.9,326.5 382.7,328.1 383.4,330.1 384.2,332.7 384.9,332.0 385.7,334.8 385.8,335.0" fill="none" stroke="#6a6a6a" stroke-width="0.7" stroke-linejoin="round" opacity="0.85"/>
<line x1="42.4" y1="281.3" x2="387.2" y2="281.3" stroke="#e69a3c" stroke-width="1.2" stroke-dasharray="9.8 2.6 9.8 7.3" stroke-dashoffset="1.6"/>
<polyline points="119.3,251.8 124.7,263.7 134.4,255.5 140.8,264.8 149.5,250.8 157.0,252.5 161.3,252.9 166.3,252.9 171.4,261.5 179.6,256.8 186.5,259.8 190.8,260.5 195.1,263.7 200.5,252.9 205.8,251.8 215.5,259.4 220.5,250.8 223.1,254.0 230.0,261.5 236.0,260.5 240.3,259.8 244.6,259.0 248.9,261.1 255.8,273.4 261.2,272.3 266.5,270.2 271.9,266.9 276.2,266.9 280.5,273.4 285.9,271.2 290.2,274.5 295.6,264.8 301.0,268.0 305.3,272.3 310.7,276.6 315.4,282.0 320.8,272.3 325.1,268.0 329.4,272.3 334.8,277.7 340.2,273.4 345.5,263.7 350.6,256.2 355.5,271.9 360.5,261.6 365.9,265.5 371.3,267.0 376.7,264.8 381.0,264.2 385.8,261.6" fill="none" stroke="#2b2bd0" stroke-width="0.9" stroke-linejoin="round" />
<circle cx="124.7" cy="263.7" r="0.9" fill="#2b2bd0"/>
<circle cx="134.4" cy="255.5" r="0.9" fill="#2b2bd0"/>
<circle cx="140.8" cy="264.8" r="0.9" fill="#2b2bd0"/>
<circle cx="149.5" cy="250.8" r="0.9" fill="#2b2bd0"/>
<circle cx="157" cy="252.5" r="0.9" fill="#2b2bd0"/>
<circle cx="161.3" cy="252.9" r="0.9" fill="#2b2bd0"/>
<circle cx="166.3" cy="252.9" r="0.9" fill="#2b2bd0"/>
<circle cx="171.4" cy="261.5" r="0.9" fill="#2b2bd0"/>
<circle cx="179.6" cy="256.8" r="0.9" fill="#2b2bd0"/>
<circle cx="186.5" cy="259.8" r="0.9" fill="#2b2bd0"/>
<circle cx="190.8" cy="260.5" r="0.9" fill="#2b2bd0"/>
<circle cx="195.1" cy="263.7" r="0.9" fill="#2b2bd0"/>
<circle cx="200.5" cy="252.9" r="0.9" fill="#2b2bd0"/>
<circle cx="205.8" cy="251.8" r="0.9" fill="#2b2bd0"/>
<circle cx="215.5" cy="259.4" r="0.9" fill="#2b2bd0"/>
<circle cx="220.5" cy="250.8" r="0.9" fill="#2b2bd0"/>
<circle cx="223.1" cy="254" r="0.9" fill="#2b2bd0"/>
<circle cx="230" cy="261.5" r="0.9" fill="#2b2bd0"/>
<circle cx="236" cy="260.5" r="0.9" fill="#2b2bd0"/>
<circle cx="240.3" cy="259.8" r="0.9" fill="#2b2bd0"/>
<circle cx="244.6" cy="259" r="0.9" fill="#2b2bd0"/>
<circle cx="248.9" cy="261.1" r="0.9" fill="#2b2bd0"/>
<circle cx="255.8" cy="273.4" r="0.9" fill="#2b2bd0"/>
<circle cx="261.2" cy="272.3" r="0.9" fill="#2b2bd0"/>
<circle cx="266.5" cy="270.2" r="0.9" fill="#2b2bd0"/>
<circle cx="271.9" cy="266.9" r="0.9" fill="#2b2bd0"/>
<circle cx="276.2" cy="266.9" r="0.9" fill="#2b2bd0"/>
<circle cx="280.5" cy="273.4" r="0.9" fill="#2b2bd0"/>
<circle cx="285.9" cy="271.2" r="0.9" fill="#2b2bd0"/>
<circle cx="290.2" cy="274.5" r="0.9" fill="#2b2bd0"/>
<circle cx="295.6" cy="264.8" r="0.9" fill="#2b2bd0"/>
<circle cx="301" cy="268" r="0.9" fill="#2b2bd0"/>
<circle cx="305.3" cy="272.3" r="0.9" fill="#2b2bd0"/>
<circle cx="310.7" cy="276.6" r="0.9" fill="#2b2bd0"/>
<circle cx="315.4" cy="282" r="0.9" fill="#2b2bd0"/>
<circle cx="320.8" cy="272.3" r="0.9" fill="#2b2bd0"/>
<circle cx="325.1" cy="268" r="0.9" fill="#2b2bd0"/>
<circle cx="329.4" cy="272.3" r="0.9" fill="#2b2bd0"/>
<circle cx="334.8" cy="277.7" r="0.9" fill="#2b2bd0"/>
<circle cx="340.2" cy="273.4" r="0.9" fill="#2b2bd0"/>
<circle cx="345.5" cy="263.7" r="0.9" fill="#2b2bd0"/>
<circle cx="350.6" cy="256.2" r="0.9" fill="#2b2bd0"/>
<circle cx="355.5" cy="271.9" r="0.9" fill="#2b2bd0"/>
<circle cx="360.5" cy="261.6" r="0.9" fill="#2b2bd0"/>
<circle cx="365.9" cy="265.5" r="0.9" fill="#2b2bd0"/>
<circle cx="371.3" cy="267" r="0.9" fill="#2b2bd0"/>
<circle cx="376.7" cy="264.8" r="0.9" fill="#2b2bd0"/>
<circle cx="381" cy="264.2" r="0.9" fill="#2b2bd0"/>
<circle cx="385.8" cy="261.6" r="0.9" fill="#2b2bd0"/>
<line x1="161.3" y1="249.5" x2="161.3" y2="256" stroke="#2b2bd0" stroke-width="0.9" />
<line x1="166.3" y1="247.5" x2="166.3" y2="258.3" stroke="#2b2bd0" stroke-width="0.9" />
<line x1="271.9" y1="262" x2="271.9" y2="272" stroke="#2b2bd0" stroke-width="0.9" />
<line x1="295.6" y1="257.2" x2="295.6" y2="268" stroke="#2b2bd0" stroke-width="0.9" />
<line x1="301" y1="266" x2="301" y2="272.5" stroke="#2b2bd0" stroke-width="0.9" />
<polyline points="119.3,251.8 124.7,314.3 130.1,327.2 135.5,320.8 140.4,317.5 144.1,304.6 148.4,298.2 151.0,301.0 155.9,311.1 161.3,285.2 166.7,290.6 172.1,297.1 176.4,298.2 180.7,309.0 186.0,283.1 190.8,309.0 195.1,300.3 200.5,290.6 205.8,293.8 211.2,300.3 215.5,311.1 219.8,369.2 223.1,334.8 227.4,307.8 237.1,309.4 241.4,308.9 246.8,306.8 249.3,313.2 254.7,326.2 256.8,327.2 265.5,328.3 271.9,321.8 277.3,308.9 281.2,345.5 285.5,330.5 286.4,321.8 291.3,321.8 296.7,314.3 302.1,315.4 309.6,328.3 315.4,320.8 320.8,317.5 325.5,317.5 331.5,326.2 335.4,341.2 340.2,346.6 345.5,324.0 350.9,320.8 355.2,320.8 360.6,314.3 366.4,319.7 371.3,325.3 375.6,325.3 381.0,322.0 385.8,316.6" fill="none" stroke="#dd2a2a" stroke-width="0.9" stroke-linejoin="round" />
<line x1="134.4" y1="277.7" x2="134.4" y2="364.9" stroke="#dd2a2a" stroke-width="0.9" opacity="0.85"/>
<line x1="140.4" y1="309" x2="140.4" y2="325" stroke="#dd2a2a" stroke-width="0.9" opacity="0.85"/>
<line x1="144.1" y1="290.6" x2="144.1" y2="317.5" stroke="#dd2a2a" stroke-width="0.9" opacity="0.85"/>
<line x1="148.4" y1="291.7" x2="148.4" y2="305.7" stroke="#dd2a2a" stroke-width="0.9" opacity="0.85"/>
<line x1="155.9" y1="291.7" x2="155.9" y2="334.8" stroke="#dd2a2a" stroke-width="0.9" opacity="0.85"/>
<line x1="161.3" y1="279.8" x2="161.3" y2="289.5" stroke="#dd2a2a" stroke-width="0.9" opacity="0.85"/>
<line x1="166.3" y1="278.8" x2="166.3" y2="302.5" stroke="#dd2a2a" stroke-width="0.9" opacity="0.85"/>
<line x1="172.1" y1="289.5" x2="172.1" y2="304.6" stroke="#dd2a2a" stroke-width="0.9" opacity="0.85"/>
<line x1="176.4" y1="291.7" x2="176.4" y2="304.6" stroke="#dd2a2a" stroke-width="0.9" opacity="0.85"/>
<line x1="181.3" y1="304.6" x2="181.3" y2="321.8" stroke="#dd2a2a" stroke-width="0.9" opacity="0.85"/>
<line x1="182.2" y1="298.2" x2="182.2" y2="321.8" stroke="#dd2a2a" stroke-width="0.9" opacity="0.85"/>
<line x1="186.5" y1="263.7" x2="186.5" y2="289.5" stroke="#dd2a2a" stroke-width="0.9" opacity="0.85"/>
<line x1="191.2" y1="286.3" x2="191.2" y2="330.5" stroke="#dd2a2a" stroke-width="0.9" opacity="0.85"/>
<line x1="195.5" y1="292.8" x2="195.5" y2="311.1" stroke="#dd2a2a" stroke-width="0.9" opacity="0.85"/>
<line x1="201.1" y1="283.1" x2="201.1" y2="302.5" stroke="#dd2a2a" stroke-width="0.9" opacity="0.85"/>
<line x1="205.8" y1="283.1" x2="205.8" y2="304.6" stroke="#dd2a2a" stroke-width="0.9" opacity="0.85"/>
<line x1="211.9" y1="293.8" x2="211.9" y2="308.9" stroke="#dd2a2a" stroke-width="0.9" opacity="0.85"/>
<line x1="219.8" y1="334.8" x2="219.8" y2="399.4" stroke="#dd2a2a" stroke-width="0.9" opacity="0.85"/>
<line x1="227" y1="302.5" x2="227" y2="311.1" stroke="#dd2a2a" stroke-width="0.9" opacity="0.85"/>
<line x1="231" y1="292.8" x2="231" y2="319.7" stroke="#dd2a2a" stroke-width="0.9" opacity="0.85"/>
<line x1="237.1" y1="302.5" x2="237.1" y2="317.5" stroke="#dd2a2a" stroke-width="0.9" opacity="0.85"/>
<line x1="240.7" y1="288.5" x2="240.7" y2="326.2" stroke="#dd2a2a" stroke-width="0.9" opacity="0.85"/>
<line x1="247.2" y1="302.5" x2="247.2" y2="321.8" stroke="#dd2a2a" stroke-width="0.9" opacity="0.85"/>
<line x1="251.5" y1="304.6" x2="251.5" y2="326.2" stroke="#dd2a2a" stroke-width="0.9" opacity="0.85"/>
<line x1="255.8" y1="321.8" x2="255.8" y2="334.8" stroke="#dd2a2a" stroke-width="0.9" opacity="0.85"/>
<line x1="261.2" y1="321.8" x2="261.2" y2="334.8" stroke="#dd2a2a" stroke-width="0.9" opacity="0.85"/>
<line x1="265.5" y1="302.5" x2="265.5" y2="362.8" stroke="#dd2a2a" stroke-width="0.9" opacity="0.85"/>
<line x1="270.8" y1="291.7" x2="270.8" y2="352" stroke="#dd2a2a" stroke-width="0.9" opacity="0.85"/>
<line x1="276.9" y1="300.3" x2="276.9" y2="313.2" stroke="#dd2a2a" stroke-width="0.9" opacity="0.85"/>
<line x1="280.5" y1="330.5" x2="280.5" y2="360.6" stroke="#dd2a2a" stroke-width="0.9" opacity="0.85"/>
<line x1="285.5" y1="311.1" x2="285.5" y2="334.8" stroke="#dd2a2a" stroke-width="0.9" opacity="0.85"/>
<line x1="295.6" y1="303.5" x2="295.6" y2="324" stroke="#dd2a2a" stroke-width="0.9" opacity="0.85"/>
<line x1="301.4" y1="304.6" x2="301.4" y2="321.8" stroke="#dd2a2a" stroke-width="0.9" opacity="0.85"/>
<line x1="305.3" y1="293.8" x2="305.3" y2="352" stroke="#dd2a2a" stroke-width="0.9" opacity="0.85"/>
<line x1="315.4" y1="316.5" x2="315.4" y2="326.2" stroke="#dd2a2a" stroke-width="0.9" opacity="0.85"/>
<line x1="320.8" y1="311.1" x2="320.8" y2="328.3" stroke="#dd2a2a" stroke-width="0.9" opacity="0.85"/>
<line x1="325.5" y1="306.8" x2="325.5" y2="329.4" stroke="#dd2a2a" stroke-width="0.9" opacity="0.85"/>
<line x1="331.5" y1="317.5" x2="331.5" y2="334.8" stroke="#dd2a2a" stroke-width="0.9" opacity="0.85"/>
<line x1="335.4" y1="330.5" x2="335.4" y2="354.2" stroke="#dd2a2a" stroke-width="0.9" opacity="0.85"/>
<line x1="340.2" y1="337" x2="340.2" y2="358.5" stroke="#dd2a2a" stroke-width="0.9" opacity="0.85"/>
<line x1="345.5" y1="298.2" x2="345.5" y2="349.8" stroke="#dd2a2a" stroke-width="0.9" opacity="0.85"/>
<line x1="350.9" y1="315.4" x2="350.9" y2="334.8" stroke="#dd2a2a" stroke-width="0.9" opacity="0.85"/>
<line x1="355.2" y1="311.1" x2="355.2" y2="324" stroke="#dd2a2a" stroke-width="0.9" opacity="0.85"/>
<line x1="360.6" y1="309" x2="360.6" y2="321.8" stroke="#dd2a2a" stroke-width="0.9" opacity="0.85"/>
<line x1="366.4" y1="310" x2="366.4" y2="325" stroke="#dd2a2a" stroke-width="0.9" opacity="0.85"/>
<line x1="371.4" y1="322" x2="371.4" y2="330.5" stroke="#dd2a2a" stroke-width="0.9" opacity="0.85"/>
<line x1="378.9" y1="322" x2="378.9" y2="335" stroke="#dd2a2a" stroke-width="0.9" opacity="0.85"/>
<line x1="385.8" y1="299.4" x2="385.8" y2="335" stroke="#dd2a2a" stroke-width="0.9" opacity="0.85"/>
<path d="M41.9,232.5 L394.5,232.5" stroke="#555" stroke-width="1"/>
<path d="M42.5,232.2 L42.5,413.3" fill="none" stroke="#666" stroke-width="1"/>
<path d="M391.5,232.2 L391.5,416.1" fill="none" stroke="#666" stroke-width="1"/>
<path d="M42.4,413.5 L391.5,413.5" fill="none" stroke="#9a9a9a" stroke-width="1"/>
<line x1="40" y1="248.4" x2="42.4" y2="248.4" stroke="#555" stroke-width="0.9" />
<text transform="translate(36,250.9) rotate(0.03)" font-size="7.2" fill="#111" color="#111" text-anchor="end" >30</text>
<line x1="40" y1="281.38" x2="42.4" y2="281.38" stroke="#555" stroke-width="0.9" />
<text transform="translate(36,283.88) rotate(0.03)" font-size="7.2" fill="#111" color="#111" text-anchor="end" >28</text>
<line x1="40" y1="314.36" x2="42.4" y2="314.36" stroke="#555" stroke-width="0.9" />
<text transform="translate(36,316.86) rotate(0.03)" font-size="7.2" fill="#111" color="#111" text-anchor="end" >26</text>
<line x1="40" y1="347.34000000000003" x2="42.4" y2="347.34000000000003" stroke="#555" stroke-width="0.9" />
<text transform="translate(36,349.84000000000003) rotate(0.03)" font-size="7.2" fill="#111" color="#111" text-anchor="end" >24</text>
<line x1="40" y1="380.32" x2="42.4" y2="380.32" stroke="#555" stroke-width="0.9" />
<text transform="translate(36,382.82) rotate(0.03)" font-size="7.2" fill="#111" color="#111" text-anchor="end" >22</text>
<line x1="40" y1="413.29999999999995" x2="42.4" y2="413.29999999999995" stroke="#555" stroke-width="0.9" />
<text transform="translate(36,415.79999999999995) rotate(0.03)" font-size="7.2" fill="#111" color="#111" text-anchor="end" >20</text>
<line x1="391.5" y1="232.4" x2="394.5" y2="232.4" stroke="#555" stroke-width="0.9" />
<text transform="translate(397.8,234.9) rotate(0.03)" font-size="7.2" fill="#111" color="#111" >8.1</text>
<line x1="391.5" y1="255.01" x2="394.5" y2="255.01" stroke="#555" stroke-width="0.9" />
<text transform="translate(397.8,257.51) rotate(0.03)" font-size="7.2" fill="#111" color="#111" >8.0</text>
<line x1="391.5" y1="277.62" x2="394.5" y2="277.62" stroke="#555" stroke-width="0.9" />
<text transform="translate(397.8,280.12) rotate(0.03)" font-size="7.2" fill="#111" color="#111" >7.9</text>
<line x1="391.5" y1="300.23" x2="394.5" y2="300.23" stroke="#555" stroke-width="0.9" />
<text transform="translate(397.8,302.73) rotate(0.03)" font-size="7.2" fill="#111" color="#111" >7.8</text>
<line x1="391.5" y1="322.84000000000003" x2="394.5" y2="322.84000000000003" stroke="#555" stroke-width="0.9" />
<text transform="translate(397.8,325.34000000000003) rotate(0.03)" font-size="7.2" fill="#111" color="#111" >7.7</text>
<line x1="391.5" y1="345.45" x2="394.5" y2="345.45" stroke="#555" stroke-width="0.9" />
<text transform="translate(397.8,347.95) rotate(0.03)" font-size="7.2" fill="#111" color="#111" >7.6</text>
<line x1="391.5" y1="368.06" x2="394.5" y2="368.06" stroke="#555" stroke-width="0.9" />
<text transform="translate(397.8,370.56) rotate(0.03)" font-size="7.2" fill="#111" color="#111" >7.5</text>
<line x1="391.5" y1="390.66999999999996" x2="394.5" y2="390.66999999999996" stroke="#555" stroke-width="0.9" />
<text transform="translate(397.8,393.16999999999996) rotate(0.03)" font-size="7.2" fill="#111" color="#111" >7.4</text>
<line x1="391.5" y1="413.28" x2="394.5" y2="413.28" stroke="#555" stroke-width="0.9" />
<text transform="translate(397.8,415.78) rotate(0.03)" font-size="7.2" fill="#111" color="#111" >7.3</text>
<line x1="42.4" y1="413.3" x2="42.4" y2="415.90000000000003" stroke="#555" stroke-width="0.9" />
<line x1="64.62" y1="413.3" x2="64.62" y2="415.90000000000003" stroke="#555" stroke-width="0.9" />
<line x1="86.12" y1="413.3" x2="86.12" y2="415.90000000000003" stroke="#555" stroke-width="0.9" />
<line x1="108.35" y1="413.3" x2="108.35" y2="415.90000000000003" stroke="#555" stroke-width="0.9" />
<line x1="129.85" y1="413.3" x2="129.85" y2="415.90000000000003" stroke="#555" stroke-width="0.9" />
<line x1="152.07" y1="413.3" x2="152.07" y2="415.90000000000003" stroke="#555" stroke-width="0.9" />
<line x1="174.29" y1="413.3" x2="174.29" y2="415.90000000000003" stroke="#555" stroke-width="0.9" />
<line x1="194.36" y1="413.3" x2="194.36" y2="415.90000000000003" stroke="#555" stroke-width="0.9" />
<line x1="216.58" y1="413.3" x2="216.58" y2="415.90000000000003" stroke="#555" stroke-width="0.9" />
<line x1="238.09" y1="413.3" x2="238.09" y2="415.90000000000003" stroke="#555" stroke-width="0.9" />
<line x1="260.31" y1="413.3" x2="260.31" y2="415.90000000000003" stroke="#555" stroke-width="0.9" />
<line x1="281.81" y1="413.3" x2="281.81" y2="415.90000000000003" stroke="#555" stroke-width="0.9" />
<line x1="304.03" y1="413.3" x2="304.03" y2="415.90000000000003" stroke="#555" stroke-width="0.9" />
<line x1="326.25" y1="413.3" x2="326.25" y2="415.90000000000003" stroke="#555" stroke-width="0.9" />
<line x1="347.76" y1="413.3" x2="347.76" y2="415.90000000000003" stroke="#555" stroke-width="0.9" />
<line x1="369.98" y1="413.3" x2="369.98" y2="415.90000000000003" stroke="#555" stroke-width="0.9" />
<line x1="391.48" y1="413.3" x2="391.48" y2="415.90000000000003" stroke="#555" stroke-width="0.9" />
<text transform="translate(45.6,453.7) rotate(-90) rotate(0.03)" font-size="8.7" fill="#111" textLength="26.8" lengthAdjust="spacingAndGlyphs" color="#111">08/2014</text>
<text transform="translate(88.8,453.7) rotate(-90) rotate(0.03)" font-size="8.7" fill="#111" textLength="26.8" lengthAdjust="spacingAndGlyphs" color="#111">10/2014</text>
<text transform="translate(132.9,453.7) rotate(-90) rotate(0.03)" font-size="8.7" fill="#111" textLength="26.8" lengthAdjust="spacingAndGlyphs" color="#111">12/2014</text>
<text transform="translate(176.9,453.7) rotate(-90) rotate(0.03)" font-size="8.7" fill="#111" textLength="26.8" lengthAdjust="spacingAndGlyphs" color="#111">02/2015</text>
<text transform="translate(220.1,453.7) rotate(-90) rotate(0.03)" font-size="8.7" fill="#111" textLength="26.8" lengthAdjust="spacingAndGlyphs" color="#111">04/2015</text>
<text transform="translate(263.0,453.7) rotate(-90) rotate(0.03)" font-size="8.7" fill="#111" textLength="26.8" lengthAdjust="spacingAndGlyphs" color="#111">06/2015</text>
<text transform="translate(306.8,453.7) rotate(-90) rotate(0.03)" font-size="8.7" fill="#111" textLength="26.8" lengthAdjust="spacingAndGlyphs" color="#111">08/2015</text>
<text transform="translate(350.90000000000003,453.7) rotate(-90) rotate(0.03)" font-size="8.7" fill="#111" textLength="26.8" lengthAdjust="spacingAndGlyphs" color="#111">10/2015</text>
<text transform="translate(393.5,453.7) rotate(-90) rotate(0.03)" font-size="8.7" fill="#111" textLength="26.8" lengthAdjust="spacingAndGlyphs" color="#111">12/2015</text>
<text transform="translate(20.3,356.8) rotate(-90) rotate(0.03)" font-size="8.9" fill="#111" color="#111">Temperature (°C)</text>
<text transform="translate(427,332) rotate(-90) rotate(0.03)" font-size="10" fill="#111" color="#111">pH<tspan font-size="6.5" dy="2">T</tspan></text>
<line x1="118.9" y1="416" x2="118.9" y2="482.4" stroke="#333" stroke-width="0.8" />
<path d="M118.9,413.4 L120.9,418.6 L116.9,418.6Z" fill="#111"/>
<line x1="137.4" y1="416" x2="137.4" y2="482.4" stroke="#333" stroke-width="0.8" />
<path d="M137.4,413.4 L139.4,418.6 L135.4,418.6Z" fill="#111"/>
<line x1="256.6" y1="416" x2="256.6" y2="482.4" stroke="#333" stroke-width="0.8" />
<path d="M256.6,413.4 L258.6,418.6 L254.60000000000002,418.6Z" fill="#111"/>
<line x1="383" y1="416" x2="383" y2="482.4" stroke="#333" stroke-width="0.8" />
<path d="M383,413.4 L385,418.6 L381,418.6Z" fill="#111"/>
<text transform="translate(121.2,490.7) scale(0.9091,1) rotate(0.03)" font-size="8.25" fill="#111" color="#111" style="stroke-width:0.1px" text-anchor="end" >10 - 12 Nov 2014:</text>
<text transform="translate(121.2,499.75) scale(0.9091,1) rotate(0.03)" font-size="8.25" fill="#111" color="#111" style="stroke-width:0.1px" text-anchor="end" >Initial collection</text>
<text transform="translate(137.4,490.7) scale(0.9091,1) rotate(0.03)" font-size="8.25" fill="#111" color="#111" style="stroke-width:0.1px" >6 - 17 Dec 2014:</text>
<text transform="translate(137.4,499.75) scale(0.9091,1) rotate(0.03)" font-size="8.25" fill="#111" color="#111" style="stroke-width:0.1px" >Measurements after 1 month</text>
<text transform="translate(137.4,508.8) scale(0.9091,1) rotate(0.03)" font-size="8.25" fill="#111" color="#111" style="stroke-width:0.1px" >in experiment; collection of</text>
<text transform="translate(137.4,517.85) scale(0.9091,1) rotate(0.03)" font-size="8.25" fill="#111" color="#111" style="stroke-width:0.1px" >ramets from parent colonies</text>
<text transform="translate(137.4,526.9) scale(0.9091,1) rotate(0.03)" font-size="8.25" fill="#111" color="#111" style="stroke-width:0.1px" >in Kāne‘ohe Bay</text>
<text transform="translate(256.6,490.7) scale(0.9091,1) rotate(0.03)" font-size="8.25" fill="#111" color="#111" style="stroke-width:0.1px" >27 May - 7 June 2015:</text>
<text transform="translate(256.6,499.75) scale(0.9091,1) rotate(0.03)" font-size="8.25" fill="#111" color="#111" style="stroke-width:0.1px" >Measurements after 7 months</text>
<text transform="translate(256.6,508.8) scale(0.9091,1) rotate(0.03)" font-size="8.25" fill="#111" color="#111" style="stroke-width:0.1px" >in experiment; collection of</text>
<text transform="translate(256.6,517.85) scale(0.9091,1) rotate(0.03)" font-size="8.25" fill="#111" color="#111" style="stroke-width:0.1px" >ramets from parent colonies in</text>
<text transform="translate(256.6,526.9) scale(0.9091,1) rotate(0.03)" font-size="8.25" fill="#111" color="#111" style="stroke-width:0.1px" >Kāne‘ohe Bay</text>
<text transform="translate(383,490.7) scale(0.9091,1) rotate(0.03)" font-size="8.25" fill="#111" color="#111" style="stroke-width:0.1px" >22 Nov - 3 Dec 2015:</text>
<text transform="translate(383,499.75) scale(0.9091,1) rotate(0.03)" font-size="8.25" fill="#111" color="#111" style="stroke-width:0.1px" >Measurements after 12 months</text>
<text transform="translate(383,508.8) scale(0.9091,1) rotate(0.03)" font-size="8.25" fill="#111" color="#111" style="stroke-width:0.1px" >in experiment; collection of</text>
<text transform="translate(383,517.85) scale(0.9091,1) rotate(0.03)" font-size="8.25" fill="#111" color="#111" style="stroke-width:0.1px" >ramets from parent colonies in</text>
<text transform="translate(383,526.9) scale(0.9091,1) rotate(0.03)" font-size="8.25" fill="#111" color="#111" style="stroke-width:0.1px" >Kāne‘ohe Bay</text>
<rect x="448.9" y="231.9" width="18.3" height="7.4" fill="#f8f4d8" stroke="#8a8a80" stroke-width="0.9" rx="0.5"/>
<rect x="448.9" y="244.70000000000002" width="18.3" height="7.4" fill="#f2ebe4" stroke="#4a4a4a" stroke-width="0.9" rx="0.5"/>
<rect x="448.9" y="257.79999999999995" width="18.3" height="7.4" fill="#f4c6ce" stroke="#a08890" stroke-width="0.9" rx="0.5"/>
<rect x="448.9" y="270.59999999999997" width="18.3" height="7.4" fill="#dfc0c8" stroke="#a08890" stroke-width="0.9" rx="0.5"/>
<text transform="translate(482.9,239.2) scale(0.9091,1) rotate(0.03)" font-size="8.14" fill="#111" color="#111" style="stroke-width:0.1px" >Bleaching Watch</text>
<text transform="translate(482.9,252.5) scale(0.9091,1) rotate(0.03)" font-size="8.14" fill="#111" color="#111" style="stroke-width:0.1px" >Bleaching Warning</text>
<text transform="translate(482.9,265.2) scale(0.9091,1) rotate(0.03)" font-size="8.14" fill="#111" color="#111" style="stroke-width:0.1px" >Alert Level 1</text>
<text transform="translate(482.9,278.3) scale(0.9091,1) rotate(0.03)" font-size="8.14" fill="#111" color="#111" style="stroke-width:0.1px" >Alert Level 2</text>
<text transform="translate(482.9,294.0) scale(0.9091,1) rotate(0.03)" font-size="8.14" fill="#111" color="#111" style="stroke-width:0.1px" >Kāne‘ohe Bay SST</text>
<text transform="translate(482.9,306.8) scale(0.9091,1) rotate(0.03)" font-size="8.14" fill="#111" color="#111" style="stroke-width:0.1px" >Waimānalo Bay SST</text>
<text transform="translate(482.9,320.8) scale(0.9091,1) rotate(0.03)" font-size="8.14" fill="#111" color="#111" style="stroke-width:0.1px" >Tank temperature</text>
<text transform="translate(482.9,334.3) scale(0.9091,1) rotate(0.03)" font-size="8.14" fill="#111" color="#111" style="stroke-width:0.1px" >Ambient pH</text>
<text transform="translate(482.9,347.4) scale(0.9091,1) rotate(0.03)" font-size="8.14" fill="#111" color="#111" style="stroke-width:0.1px" >Simulated OA pH</text>
<text transform="translate(482.9,360.6) scale(0.9091,1) rotate(0.03)" font-size="8.14" fill="#111" color="#111" style="stroke-width:0.1px" >Bleaching threshold</text>
<line x1="448.8" y1="293.1" x2="469.8" y2="293.1" stroke="#a8a8a8" stroke-width="1" />
<line x1="448.8" y1="306.3" x2="469.8" y2="306.3" stroke="#d6d6d6" stroke-width="1" />
<line x1="448.8" y1="319.4" x2="469.8" y2="319.4" stroke="#444" stroke-width="1" />
<line x1="448.8" y1="332.2" x2="469.8" y2="332.2" stroke="#4848b8" stroke-width="1" />
<line x1="448.8" y1="345.3" x2="469.8" y2="345.3" stroke="#d47080" stroke-width="1" />
<line x1="448.8" y1="358.8" x2="469.8" y2="358.8" stroke="#f0d0a0" stroke-width="1" stroke-dasharray="4.4 4.4"/>
<text transform="translate(142.6,558.9) scale(0.9091,1) rotate(0.03)" font-size="8.25" fill="#111" color="#111" style="stroke-width:0.1px" font-weight="bold" >Initial collection</text>
<text transform="translate(400.7,559.6) scale(0.9091,1) rotate(0.03)" font-size="8.25" fill="#111" color="#111" style="stroke-width:0.1px" font-weight="bold" >Experimental tanks (2 per treatment)</text>
<text transform="translate(576.9,559) scale(0.9091,1) rotate(0.03)" font-size="8.14" fill="#111" color="#111" style="stroke-width:0.1px" font-weight="bold" >Physiological measurements</text>
<text transform="translate(43.2,644.2) scale(0.9091,1) rotate(0.03)" font-size="8.25" fill="#111" color="#111" style="stroke-width:0.1px" text-anchor="middle" >Kāne‘ohe Bay</text>
<text transform="translate(43.2,653.0) scale(0.9091,1) rotate(0.03)" font-size="8.25" fill="#111" color="#111" style="stroke-width:0.1px" text-anchor="middle" >Waimānalo Bay</text>
<line x1="77.3" y1="649" x2="95.99" y2="630.06" stroke="#111" stroke-width="0.9" />
<path d="M99.50,626.50 L97.14,632.60 L93.44,628.94Z" fill="#000"/>
<line x1="77.3" y1="649" x2="95.99" y2="667.94" stroke="#111" stroke-width="0.9" />
<path d="M99.50,671.50 L93.44,669.06 L97.14,665.40Z" fill="#000"/>
<defs>
<linearGradient id="bg1" x1="0" y1="0" x2="0" y2="1"><stop offset="0" stop-color="#2f3d92"/><stop offset="0.45" stop-color="#3a4aa4"/><stop offset="0.78" stop-color="#4a5cb4"/><stop offset="0.785" stop-color="#26348a"/><stop offset="1" stop-color="#223080"/></linearGradient>
<linearGradient id="bg2" x1="0" y1="0" x2="0" y2="1"><stop offset="0" stop-color="#4c56ac"/><stop offset="0.76" stop-color="#7686c8"/><stop offset="0.77" stop-color="#33439a"/><stop offset="1" stop-color="#2f3d90"/></linearGradient>
</defs>
<rect x="107.1" y="575.1" width="52.8" height="55.4" fill="url(#bg1)"/>
<g clip-path="url(#cp1)">
<defs><filter id="bl1" x="-20%" y="-20%" width="140%" height="140%"><feGaussianBlur stdDeviation="0.6"/></filter><filter id="bl2" x="-30%" y="-30%" width="160%" height="160%"><feGaussianBlur stdDeviation="1.4"/></filter></defs>
<g filter="url(#bl1)">
<path d="M127,626 L121,612 L115,603 L112,597.5" stroke="#9a7c52" stroke-width="6" stroke-linecap="round" stroke-linejoin="round" fill="none"/>
<path d="M124,618 L114.5,607 L111.6,608" stroke="#9a7c52" stroke-width="6" stroke-linecap="round" stroke-linejoin="round" fill="none"/>
<path d="M121,610 L115,595 L113.5,588" stroke="#9a7c52" stroke-width="6" stroke-linecap="round" stroke-linejoin="round" fill="none"/>
<path d="M118,600 L116.5,584" stroke="#9a7c52" stroke-width="6" stroke-linecap="round" stroke-linejoin="round" fill="none"/>
<path d="M126,622 L123,600 L121.5,581" stroke="#9a7c52" stroke-width="6" stroke-linecap="round" stroke-linejoin="round" fill="none"/>
<path d="M124,596 L119,580.5" stroke="#9a7c52" stroke-width="6" stroke-linecap="round" stroke-linejoin="round" fill="none"/>
<path d="M130,624 L130,600 L129,581" stroke="#9a7c52" stroke-width="6" stroke-linecap="round" stroke-linejoin="round" fill="none"/>
<path d="M129,595 L125.5,580" stroke="#9a7c52" stroke-width="6" stroke-linecap="round" stroke-linejoin="round" fill="none"/>
<path d="M131,596 L133,581" stroke="#9a7c52" stroke-width="6" stroke-linecap="round" stroke-linejoin="round" fill="none"/>
<path d="M134,624 L137,600 L139.5,582" stroke="#9a7c52" stroke-width="6" stroke-linecap="round" stroke-linejoin="round" fill="none"/>
<path d="M136,605 L143,586" stroke="#9a7c52" stroke-width="6" stroke-linecap="round" stroke-linejoin="round" fill="none"/>
<path d="M137,626 L144,608 L150,596 L155,589" stroke="#9a7c52" stroke-width="6" stroke-linecap="round" stroke-linejoin="round" fill="none"/>
<path d="M140,615 L147,598 L147.8,588" stroke="#9a7c52" stroke-width="6" stroke-linecap="round" stroke-linejoin="round" fill="none"/>
<path d="M143,612 L151,603 L154.5,597" stroke="#9a7c52" stroke-width="6" stroke-linecap="round" stroke-linejoin="round" fill="none"/>
<path d="M141,620 L149,612 L152.5,607" stroke="#9a7c52" stroke-width="6" stroke-linecap="round" stroke-linejoin="round" fill="none"/>
<path d="M146,602 L152.5,593" stroke="#9a7c52" stroke-width="6" stroke-linecap="round" stroke-linejoin="round" fill="none"/>
<path d="M121,628 L124,604 L140,604 L143,626Z" fill="#9a7c52"/>
<path d="M127,626 L121,612 L115,603 L112,597.5" stroke="#8c7046" stroke-width="1.2" stroke-linecap="round" fill="none" opacity="0.4"/>
<path d="M124,618 L114.5,607 L111.6,608" stroke="#8c7046" stroke-width="1.2" stroke-linecap="round" fill="none" opacity="0.4"/>
<path d="M121,610 L115,595 L113.5,588" stroke="#8c7046" stroke-width="1.2" stroke-linecap="round" fill="none" opacity="0.4"/>
<path d="M118,600 L116.5,584" stroke="#8c7046" stroke-width="1.2" stroke-linecap="round" fill="none" opacity="0.4"/>
<path d="M126,622 L123,600 L121.5,581" stroke="#8c7046" stroke-width="1.2" stroke-linecap="round" fill="none" opacity="0.4"/>
<path d="M124,596 L119,580.5" stroke="#8c7046" stroke-width="1.2" stroke-linecap="round" fill="none" opacity="0.4"/>
<path d="M130,624 L130,600 L129,581" stroke="#8c7046" stroke-width="1.2" stroke-linecap="round" fill="none" opacity="0.4"/>
<path d="M129,595 L125.5,580" stroke="#8c7046" stroke-width="1.2" stroke-linecap="round" fill="none" opacity="0.4"/>
<path d="M131,596 L133,581" stroke="#8c7046" stroke-width="1.2" stroke-linecap="round" fill="none" opacity="0.4"/>
<path d="M134,624 L137,600 L139.5,582" stroke="#8c7046" stroke-width="1.2" stroke-linecap="round" fill="none" opacity="0.4"/>
<path d="M136,605 L143,586" stroke="#8c7046" stroke-width="1.2" stroke-linecap="round" fill="none" opacity="0.4"/>
<path d="M137,626 L144,608 L150,596 L155,589" stroke="#8c7046" stroke-width="1.2" stroke-linecap="round" fill="none" opacity="0.4"/>
<path d="M140,615 L147,598 L147.8,588" stroke="#8c7046" stroke-width="1.2" stroke-linecap="round" fill="none" opacity="0.4"/>
<path d="M143,612 L151,603 L154.5,597" stroke="#8c7046" stroke-width="1.2" stroke-linecap="round" fill="none" opacity="0.4"/>
<path d="M141,620 L149,612 L152.5,607" stroke="#8c7046" stroke-width="1.2" stroke-linecap="round" fill="none" opacity="0.4"/>
<path d="M146,602 L152.5,593" stroke="#8c7046" stroke-width="1.2" stroke-linecap="round" fill="none" opacity="0.4"/>
<circle cx="112" cy="597.5" r="2.4" fill="#c2aa84" opacity="0.8"/>
<circle cx="128.3" cy="627.5" r="0.88" fill="#efe8da" opacity="0.9"/>
<circle cx="127.7" cy="620.1" r="0.71" fill="#efe8da" opacity="0.9"/>
<circle cx="126.3" cy="619.8" r="0.87" fill="#efe8da" opacity="0.9"/>
<circle cx="120.5" cy="615.3" r="0.64" fill="#efe8da" opacity="0.9"/>
<circle cx="121.2" cy="612.4" r="0.55" fill="#efe8da" opacity="0.9"/>
<circle cx="119.2" cy="607.4" r="0.61" fill="#efe8da" opacity="0.9"/>
<circle cx="116.5" cy="601.1" r="0.77" fill="#efe8da" opacity="0.9"/>
<circle cx="113.1" cy="600.4" r="0.85" fill="#efe8da" opacity="0.9"/>
<circle cx="110.5" cy="596.0" r="0.89" fill="#efe8da" opacity="0.9"/>
<circle cx="111.6" cy="608" r="2.4" fill="#c2aa84" opacity="0.8"/>
<circle cx="122.9" cy="620.4" r="0.74" fill="#efe8da" opacity="0.9"/>
<circle cx="120.1" cy="617.5" r="0.79" fill="#efe8da" opacity="0.9"/>
<circle cx="121.7" cy="614.5" r="0.65" fill="#efe8da" opacity="0.9"/>
<circle cx="116.2" cy="608.0" r="0.60" fill="#efe8da" opacity="0.9"/>
<circle cx="112.2" cy="606.0" r="0.76" fill="#efe8da" opacity="0.9"/>
<circle cx="111.9" cy="607.9" r="0.67" fill="#efe8da" opacity="0.9"/>
<circle cx="113.5" cy="588" r="2.4" fill="#c2aa84" opacity="0.8"/>
<circle cx="119.7" cy="606.0" r="0.72" fill="#efe8da" opacity="0.9"/>
<circle cx="116.3" cy="606.5" r="0.56" fill="#efe8da" opacity="0.9"/>
<circle cx="118.7" cy="602.8" r="0.56" fill="#efe8da" opacity="0.9"/>
<circle cx="117.7" cy="597.3" r="0.75" fill="#efe8da" opacity="0.9"/>
<circle cx="112.4" cy="592.6" r="0.61" fill="#efe8da" opacity="0.9"/>
<circle cx="117.4" cy="593.4" r="0.81" fill="#efe8da" opacity="0.9"/>
<circle cx="116.5" cy="593.8" r="0.67" fill="#efe8da" opacity="0.9"/>
<circle cx="112.7" cy="588.1" r="0.82" fill="#efe8da" opacity="0.9"/>
<circle cx="116.5" cy="584" r="2.4" fill="#c2aa84" opacity="0.8"/>
<circle cx="116.0" cy="601.3" r="0.83" fill="#efe8da" opacity="0.9"/>
<circle cx="119.6" cy="594.4" r="0.88" fill="#efe8da" opacity="0.9"/>
<circle cx="115.3" cy="592.8" r="0.76" fill="#efe8da" opacity="0.9"/>
<circle cx="119.3" cy="589.6" r="0.87" fill="#efe8da" opacity="0.9"/>
<circle cx="117.0" cy="586.2" r="0.66" fill="#efe8da" opacity="0.9"/>
<circle cx="114.8" cy="581.8" r="0.60" fill="#efe8da" opacity="0.9"/>
<circle cx="121.5" cy="581" r="2.4" fill="#c2aa84" opacity="0.8"/>
<circle cx="128.6" cy="620.2" r="0.57" fill="#efe8da" opacity="0.9"/>
<circle cx="125.7" cy="617.8" r="0.63" fill="#efe8da" opacity="0.9"/>
<circle cx="126.2" cy="610.8" r="0.70" fill="#efe8da" opacity="0.9"/>
<circle cx="121.7" cy="609.5" r="0.56" fill="#efe8da" opacity="0.9"/>
<circle cx="123.5" cy="605.4" r="0.60" fill="#efe8da" opacity="0.9"/>
<circle cx="124.2" cy="602.3" r="0.77" fill="#efe8da" opacity="0.9"/>
<circle cx="124.5" cy="598.0" r="0.70" fill="#efe8da" opacity="0.9"/>
<circle cx="120.9" cy="598.0" r="0.65" fill="#efe8da" opacity="0.9"/>
<circle cx="122.2" cy="595.0" r="0.85" fill="#efe8da" opacity="0.9"/>
<circle cx="124.6" cy="588.4" r="0.72" fill="#efe8da" opacity="0.9"/>
<circle cx="123.0" cy="584.7" r="0.65" fill="#efe8da" opacity="0.9"/>
<circle cx="121.0" cy="579.2" r="0.68" fill="#efe8da" opacity="0.9"/>
<circle cx="119" cy="580.5" r="2.4" fill="#c2aa84" opacity="0.8"/>
<circle cx="126.5" cy="598.4" r="0.77" fill="#efe8da" opacity="0.9"/>
<circle cx="123.0" cy="592.1" r="0.58" fill="#efe8da" opacity="0.9"/>
<circle cx="120.8" cy="591.3" r="0.85" fill="#efe8da" opacity="0.9"/>
<circle cx="120.3" cy="588.2" r="0.82" fill="#efe8da" opacity="0.9"/>
<circle cx="121.0" cy="584.5" r="0.82" fill="#efe8da" opacity="0.9"/>
<circle cx="118.3" cy="581.6" r="0.65" fill="#efe8da" opacity="0.9"/>
<circle cx="129" cy="581" r="2.4" fill="#c2aa84" opacity="0.8"/>
<circle cx="131.0" cy="619.5" r="0.88" fill="#efe8da" opacity="0.9"/>
<circle cx="130.4" cy="614.6" r="0.74" fill="#efe8da" opacity="0.9"/>
<circle cx="130.9" cy="610.1" r="0.84" fill="#efe8da" opacity="0.9"/>
<circle cx="130.8" cy="608.4" r="0.67" fill="#efe8da" opacity="0.9"/>
<circle cx="130.7" cy="604.7" r="0.84" fill="#efe8da" opacity="0.9"/>
<circle cx="129.2" cy="601.8" r="0.85" fill="#efe8da" opacity="0.9"/>
<circle cx="131.0" cy="602.5" r="0.88" fill="#efe8da" opacity="0.9"/>
<circle cx="129.9" cy="596.4" r="0.61" fill="#efe8da" opacity="0.9"/>
<circle cx="131.4" cy="594.7" r="0.72" fill="#efe8da" opacity="0.9"/>
<circle cx="130.4" cy="589.7" r="0.81" fill="#efe8da" opacity="0.9"/>
<circle cx="127.5" cy="586.3" r="0.75" fill="#efe8da" opacity="0.9"/>
<circle cx="129.9" cy="580.6" r="0.77" fill="#efe8da" opacity="0.9"/>
<circle cx="125.5" cy="580" r="2.4" fill="#c2aa84" opacity="0.8"/>
<circle cx="130.4" cy="595.7" r="0.80" fill="#efe8da" opacity="0.9"/>
<circle cx="125.7" cy="589.5" r="0.70" fill="#efe8da" opacity="0.9"/>
<circle cx="128.0" cy="586.0" r="0.79" fill="#efe8da" opacity="0.9"/>
<circle cx="127.1" cy="581.4" r="0.72" fill="#efe8da" opacity="0.9"/>
<circle cx="124.1" cy="577.7" r="0.60" fill="#efe8da" opacity="0.9"/>
<circle cx="133" cy="581" r="2.4" fill="#c2aa84" opacity="0.8"/>
<circle cx="130.1" cy="594.3" r="0.62" fill="#efe8da" opacity="0.9"/>
<circle cx="129.1" cy="592.1" r="0.68" fill="#efe8da" opacity="0.9"/>
<circle cx="132.6" cy="589.0" r="0.63" fill="#efe8da" opacity="0.9"/>
<circle cx="134.6" cy="582.2" r="0.69" fill="#efe8da" opacity="0.9"/>
<circle cx="131.8" cy="580.5" r="0.59" fill="#efe8da" opacity="0.9"/>
<circle cx="139.5" cy="582" r="2.4" fill="#c2aa84" opacity="0.8"/>
<circle cx="133.3" cy="621.6" r="0.76" fill="#efe8da" opacity="0.9"/>
<circle cx="136.1" cy="612.7" r="0.84" fill="#efe8da" opacity="0.9"/>
<circle cx="135.7" cy="608.5" r="0.77" fill="#efe8da" opacity="0.9"/>
<circle cx="135.9" cy="601.6" r="0.76" fill="#efe8da" opacity="0.9"/>
<circle cx="137.3" cy="602.4" r="0.89" fill="#efe8da" opacity="0.9"/>
<circle cx="137.6" cy="599.2" r="0.86" fill="#efe8da" opacity="0.9"/>
<circle cx="134.9" cy="594.4" r="0.75" fill="#efe8da" opacity="0.9"/>
<circle cx="138.6" cy="590.9" r="0.77" fill="#efe8da" opacity="0.9"/>
<circle cx="140.5" cy="588.6" r="0.70" fill="#efe8da" opacity="0.9"/>
<circle cx="137.6" cy="584.5" r="0.89" fill="#efe8da" opacity="0.9"/>
<circle cx="138.9" cy="584.4" r="0.87" fill="#efe8da" opacity="0.9"/>
<circle cx="143" cy="586" r="2.4" fill="#c2aa84" opacity="0.8"/>
<circle cx="136.5" cy="603.8" r="0.89" fill="#efe8da" opacity="0.9"/>
<circle cx="137.1" cy="601.4" r="0.66" fill="#efe8da" opacity="0.9"/>
<circle cx="140.9" cy="598.6" r="0.65" fill="#efe8da" opacity="0.9"/>
<circle cx="139.4" cy="593.5" r="0.77" fill="#efe8da" opacity="0.9"/>
<circle cx="140.4" cy="591.3" r="0.82" fill="#efe8da" opacity="0.9"/>
<circle cx="143.5" cy="586.6" r="0.74" fill="#efe8da" opacity="0.9"/>
<circle cx="141.8" cy="588.3" r="0.82" fill="#efe8da" opacity="0.9"/>
<circle cx="155" cy="589" r="2.4" fill="#c2aa84" opacity="0.8"/>
<circle cx="143.0" cy="615.9" r="0.76" fill="#efe8da" opacity="0.9"/>
<circle cx="141.5" cy="614.8" r="0.76" fill="#efe8da" opacity="0.9"/>
<circle cx="144.1" cy="609.0" r="0.82" fill="#efe8da" opacity="0.9"/>
<circle cx="143.0" cy="608.2" r="0.67" fill="#efe8da" opacity="0.9"/>
<circle cx="146.8" cy="601.3" r="0.81" fill="#efe8da" opacity="0.9"/>
<circle cx="149.0" cy="596.6" r="0.64" fill="#efe8da" opacity="0.9"/>
<circle cx="149.8" cy="598.2" r="0.86" fill="#efe8da" opacity="0.9"/>
<circle cx="150.2" cy="593.5" r="0.82" fill="#efe8da" opacity="0.9"/>
<circle cx="152.1" cy="592.9" r="0.80" fill="#efe8da" opacity="0.9"/>
<circle cx="155.7" cy="588.9" r="0.87" fill="#efe8da" opacity="0.9"/>
<circle cx="147.8" cy="588" r="2.4" fill="#c2aa84" opacity="0.8"/>
<circle cx="141.2" cy="607.1" r="0.84" fill="#efe8da" opacity="0.9"/>
<circle cx="141.9" cy="606.5" r="0.79" fill="#efe8da" opacity="0.9"/>
<circle cx="145.3" cy="600.3" r="0.82" fill="#efe8da" opacity="0.9"/>
<circle cx="149.1" cy="596.1" r="0.72" fill="#efe8da" opacity="0.9"/>
<circle cx="147.3" cy="598.0" r="0.67" fill="#efe8da" opacity="0.9"/>
<circle cx="145.5" cy="595.1" r="0.83" fill="#efe8da" opacity="0.9"/>
<circle cx="145.3" cy="589.9" r="0.84" fill="#efe8da" opacity="0.9"/>
<circle cx="149.3" cy="588.9" r="0.56" fill="#efe8da" opacity="0.9"/>
<circle cx="154.5" cy="597" r="2.4" fill="#c2aa84" opacity="0.8"/>
<circle cx="145.5" cy="614.6" r="0.80" fill="#efe8da" opacity="0.9"/>
<circle cx="150.1" cy="604.5" r="0.78" fill="#efe8da" opacity="0.9"/>
<circle cx="153.4" cy="604.1" r="0.60" fill="#efe8da" opacity="0.9"/>
<circle cx="149.9" cy="605.2" r="0.60" fill="#efe8da" opacity="0.9"/>
<circle cx="153.3" cy="599.6" r="0.61" fill="#efe8da" opacity="0.9"/>
<circle cx="155.1" cy="594.6" r="0.59" fill="#efe8da" opacity="0.9"/>
<circle cx="152.5" cy="607" r="2.4" fill="#c2aa84" opacity="0.8"/>
<circle cx="144.0" cy="615.1" r="0.81" fill="#efe8da" opacity="0.9"/>
<circle cx="151.0" cy="610.1" r="0.70" fill="#efe8da" opacity="0.9"/>
<circle cx="148.0" cy="612.5" r="0.72" fill="#efe8da" opacity="0.9"/>
<circle cx="154.8" cy="606.3" r="0.57" fill="#efe8da" opacity="0.9"/>
<circle cx="152.5" cy="593" r="2.4" fill="#c2aa84" opacity="0.8"/>
<circle cx="147.0" cy="600.2" r="0.77" fill="#efe8da" opacity="0.9"/>
<circle cx="148.2" cy="601.1" r="0.74" fill="#efe8da" opacity="0.9"/>
<circle cx="151.0" cy="594.8" r="0.74" fill="#efe8da" opacity="0.9"/>
<circle cx="151.2" cy="594.3" r="0.73" fill="#efe8da" opacity="0.9"/>
<path d="M116,622 L133,623 L134,630.5 L115,630.5Z" fill="#b9bfd8" opacity="0.85"/>
</g>
</g>
<text transform="translate(133.5,641.7) scale(0.9091,1) rotate(0.03)" font-size="8.25" fill="#111" color="#111" style="stroke-width:0.1px" text-anchor="middle" font-style="italic" >Montipora capitata</text>
<defs><clipPath id="cp2"><rect x="107.1" y="665.1" width="52.8" height="55.4"/></clipPath><clipPath id="cp1"><rect x="107.1" y="575.1" width="52.8" height="55.4"/></clipPath></defs>
<rect x="107.1" y="665.1" width="52.8" height="55.4" fill="url(#bg2)"/>
<g clip-path="url(#cp2)">
<defs><linearGradient id="lob" x1="0" y1="0" x2="0" y2="1"><stop offset="0" stop-color="#a29a96"/><stop offset="0.3" stop-color="#7c7470"/><stop offset="0.65" stop-color="#6c6662"/><stop offset="1" stop-color="#625d5a"/></linearGradient></defs>
<g filter="url(#bl1)">
<path d="M119.80,720.60 C116.13,719.00 120.40,713.93 120.30,711.00 C120.20,708.07 119.88,705.42 119.20,703.00 C118.52,700.58 117.30,698.58 116.20,696.50 C115.10,694.42 113.48,692.58 112.60,690.50 C111.72,688.42 111.03,686.33 110.90,684.00 C110.77,681.67 110.98,678.57 111.80,676.50 C112.62,674.43 114.27,672.62 115.80,671.60 C117.33,670.58 119.27,670.43 121.00,670.40 C122.73,670.37 124.77,670.70 126.20,671.40 C127.63,672.10 128.80,673.17 129.60,674.60 C130.40,676.03 130.67,677.77 131.00,680.00 C131.33,682.23 131.28,685.17 131.60,688.00 C131.92,690.83 132.50,697.00 132.90,697.00 C133.30,697.00 133.73,691.08 134.00,688.00 C134.27,684.92 134.10,681.27 134.50,678.50 C134.90,675.73 135.35,673.18 136.40,671.40 C137.45,669.62 139.20,668.53 140.80,667.80 C142.40,667.07 144.27,666.97 146.00,667.00 C147.73,667.03 149.63,667.27 151.20,668.00 C152.77,668.73 154.38,669.98 155.40,671.40 C156.42,672.82 157.10,674.70 157.30,676.50 C157.50,678.30 157.18,680.28 156.60,682.20 C156.02,684.12 154.77,685.95 153.80,688.00 C152.83,690.05 151.90,692.37 150.80,694.50 C149.70,696.63 148.37,698.85 147.20,700.80 C146.03,702.75 144.57,704.33 143.80,706.20 C143.03,708.07 142.85,709.60 142.60,712.00 C142.35,714.40 146.10,719.17 142.30,720.60 C138.50,722.03 123.47,722.20 119.80,720.60Z" fill="url(#lob)"/>
</g>
<g filter="url(#bl2)">
<ellipse cx="121" cy="673" rx="6.5" ry="2.4" fill="#d4ccc4"/>
<ellipse cx="146" cy="670" rx="8" ry="2.4" fill="#d4ccc4"/>
<ellipse cx="119" cy="685" rx="3.5" ry="2.6" fill="#4c463a" opacity="0.45"/>
<ellipse cx="146.5" cy="684" rx="4" ry="2.6" fill="#4c463a" opacity="0.45"/>
<ellipse cx="126" cy="699" rx="3" ry="5" fill="#5a5446" opacity="0.35"/>
<ellipse cx="140" cy="699" rx="2.5" ry="4" fill="#5a5446" opacity="0.3"/>
</g>
<defs><filter id="tex" x="0" y="0" width="100%" height="100%"><feTurbulence type="fractalNoise" baseFrequency="0.9" numOctaves="2" seed="4" result="n"/><feColorMatrix in="n" type="matrix" values="0 0 0 0 0.22  0 0 0 0 0.2  0 0 0 0 0.16  3 0 0 0 -1.3" result="d"/><feComposite in="d" in2="SourceGraphic" operator="in"/></filter></defs>
<path d="M119.80,720.60 C116.13,719.00 120.40,713.93 120.30,711.00 C120.20,708.07 119.88,705.42 119.20,703.00 C118.52,700.58 117.30,698.58 116.20,696.50 C115.10,694.42 113.48,692.58 112.60,690.50 C111.72,688.42 111.03,686.33 110.90,684.00 C110.77,681.67 110.98,678.57 111.80,676.50 C112.62,674.43 114.27,672.62 115.80,671.60 C117.33,670.58 119.27,670.43 121.00,670.40 C122.73,670.37 124.77,670.70 126.20,671.40 C127.63,672.10 128.80,673.17 129.60,674.60 C130.40,676.03 130.67,677.77 131.00,680.00 C131.33,682.23 131.28,685.17 131.60,688.00 C131.92,690.83 132.50,697.00 132.90,697.00 C133.30,697.00 133.73,691.08 134.00,688.00 C134.27,684.92 134.10,681.27 134.50,678.50 C134.90,675.73 135.35,673.18 136.40,671.40 C137.45,669.62 139.20,668.53 140.80,667.80 C142.40,667.07 144.27,666.97 146.00,667.00 C147.73,667.03 149.63,667.27 151.20,668.00 C152.77,668.73 154.38,669.98 155.40,671.40 C156.42,672.82 157.10,674.70 157.30,676.50 C157.50,678.30 157.18,680.28 156.60,682.20 C156.02,684.12 154.77,685.95 153.80,688.00 C152.83,690.05 151.90,692.37 150.80,694.50 C149.70,696.63 148.37,698.85 147.20,700.80 C146.03,702.75 144.57,704.33 143.80,706.20 C143.03,708.07 142.85,709.60 142.60,712.00 C142.35,714.40 146.10,719.17 142.30,720.60 C138.50,722.03 123.47,722.20 119.80,720.60Z" fill="#000" filter="url(#tex)" opacity="0.8"/>
<path d="M132.9,695 L132.9,703" stroke="#4a4438" stroke-width="1" opacity="0.4"/>
<path d="M143,709 L152,706 L157,720.5 L146,720.5Z" fill="#8f9cd4" opacity="0.45"/>
<rect x="120" y="718.8" width="22" height="1.7" fill="#d8d8dc" opacity="0.7"/>
</g>
<text transform="translate(133,731.3) scale(0.9091,1) rotate(0.03)" font-size="8.25" fill="#111" color="#111" style="stroke-width:0.1px" text-anchor="middle" font-style="italic" >Porites compressa</text>
<text transform="translate(175.6,581.3) scale(0.9091,1) rotate(0.03)" font-size="8.25" fill="#111" color="#111" style="stroke-width:0.1px" >6 bleached</text>
<text transform="translate(175.6,590.3) scale(0.9091,1) rotate(0.03)" font-size="8.25" fill="#111" color="#111" style="stroke-width:0.1px" >colonies</text>
<text transform="translate(175.6,636.6) scale(0.9091,1) rotate(0.03)" font-size="8.25" fill="#111" color="#111" style="stroke-width:0.1px" >6 non-bleached</text>
<text transform="translate(175.6,645.6) scale(0.9091,1) rotate(0.03)" font-size="8.25" fill="#111" color="#111" style="stroke-width:0.1px" >colonies</text>
<text transform="translate(173,671.2) scale(0.9091,1) rotate(0.03)" font-size="8.25" fill="#111" color="#111" style="stroke-width:0.1px" >6 bleached</text>
<text transform="translate(173,680.2) scale(0.9091,1) rotate(0.03)" font-size="8.25" fill="#111" color="#111" style="stroke-width:0.1px" >colonies</text>
<text transform="translate(173,726.9) scale(0.9091,1) rotate(0.03)" font-size="8.25" fill="#111" color="#111" style="stroke-width:0.1px" >6 non-bleached</text>
<text transform="translate(173,735.8) scale(0.9091,1) rotate(0.03)" font-size="8.25" fill="#111" color="#111" style="stroke-width:0.1px" >colonies</text>
<line x1="170.5" y1="608.4" x2="230.26" y2="588.2" stroke="#111" stroke-width="0.9" />
<path d="M235.00,586.60 L230.15,590.98 L228.48,586.06Z" fill="#000"/>
<line x1="170.5" y1="608.4" x2="230.27" y2="628.88" stroke="#111" stroke-width="0.9" />
<path d="M235.00,630.50 L228.48,631.01 L230.17,626.10Z" fill="#000"/>
<line x1="168.5" y1="698.4" x2="228.28" y2="677.64" stroke="#111" stroke-width="0.9" />
<path d="M233.00,676.00 L228.19,680.42 L226.48,675.51Z" fill="#000"/>
<line x1="168.5" y1="698.4" x2="228.27" y2="718.88" stroke="#111" stroke-width="0.9" />
<path d="M233.00,720.50 L226.48,721.01 L228.17,716.10Z" fill="#000"/>
<text transform="translate(242.5,581.5) scale(0.9091,1) rotate(0.03)" font-size="8.25" fill="#111" color="#111" style="stroke-width:0.1px" >Time zero control</text>
<text transform="translate(242.5,590.4) scale(0.9091,1) rotate(0.03)" font-size="8.25" fill="#111" color="#111" style="stroke-width:0.1px" >+ 12 ramets /</text>
<text transform="translate(242.5,599.3) scale(0.9091,1) rotate(0.03)" font-size="8.25" fill="#111" color="#111" style="stroke-width:0.1px" >colony</text>
<text transform="translate(242.5,626.5) scale(0.9091,1) rotate(0.03)" font-size="8.25" fill="#111" color="#111" style="stroke-width:0.1px" >Time zero control</text>
<text transform="translate(242.5,635.4) scale(0.9091,1) rotate(0.03)" font-size="8.25" fill="#111" color="#111" style="stroke-width:0.1px" >+ 12 ramets /</text>
<text transform="translate(242.5,644.3) scale(0.9091,1) rotate(0.03)" font-size="8.25" fill="#111" color="#111" style="stroke-width:0.1px" >colony</text>
<text transform="translate(242.5,671.5) scale(0.9091,1) rotate(0.03)" font-size="8.25" fill="#111" color="#111" style="stroke-width:0.1px" >Time zero control</text>
<text transform="translate(242.5,680.4) scale(0.9091,1) rotate(0.03)" font-size="8.25" fill="#111" color="#111" style="stroke-width:0.1px" >+ 12 ramets /</text>
<text transform="translate(242.5,689.3) scale(0.9091,1) rotate(0.03)" font-size="8.25" fill="#111" color="#111" style="stroke-width:0.1px" >colony</text>
<text transform="translate(242.5,716.5) scale(0.9091,1) rotate(0.03)" font-size="8.25" fill="#111" color="#111" style="stroke-width:0.1px" >Time zero control</text>
<text transform="translate(242.5,725.4) scale(0.9091,1) rotate(0.03)" font-size="8.25" fill="#111" color="#111" style="stroke-width:0.1px" >+ 12 ramets /</text>
<text transform="translate(242.5,734.3) scale(0.9091,1) rotate(0.03)" font-size="8.25" fill="#111" color="#111" style="stroke-width:0.1px" >colony</text>
<text transform="translate(318,651) rotate(-90) scale(0.9091,1) rotate(0.03)" font-size="8.25" style="stroke-width:0.1px" fill="#111" text-anchor="middle" color="#111">2 sites x 2 species x 2 health statuses x 6 colonies x</text>
<text transform="translate(327,653) rotate(-90) scale(0.9091,1) rotate(0.03)" font-size="8.25" style="stroke-width:0.1px" fill="#111" text-anchor="middle" color="#111">12 ramets =</text>
<text transform="translate(336.3,653) rotate(-90) scale(0.9091,1) rotate(0.03)" font-size="8.25" style="stroke-width:0.1px" fill="#111" text-anchor="middle" color="#111">576 ramets total</text>
<text transform="translate(346.2,650.7) scale(0.9091,1) rotate(0.03)" font-size="8.25" fill="#111" color="#111" style="stroke-width:0.1px" >72 ramets / tank</text>
<line x1="342" y1="653.5" x2="404.5" y2="653.5" stroke="#111" stroke-width="0.9" />
<path d="M409.50,653.50 L403.50,656.10 L403.50,650.90Z" fill="#000"/>
<rect x="414.4" y="569.8" width="45.2" height="33.5" fill="none" stroke="#555" stroke-width="0.9"/>
<text transform="translate(437.0,587.5) scale(0.9091,1) rotate(0.03)" font-size="8.14" fill="#111" color="#111" style="stroke-width:0.1px" text-anchor="middle" >Control</text>
<rect x="471.3" y="569.8" width="45.2" height="33.5" fill="none" stroke="#555" stroke-width="0.9"/>
<text transform="translate(493.90000000000003,587.5) scale(0.9091,1) rotate(0.03)" font-size="8.14" fill="#111" color="#111" style="stroke-width:0.1px" text-anchor="middle" >Control</text>
<rect x="414.4" y="614.5" width="45.2" height="33.5" fill="none" stroke="#555" stroke-width="0.9"/>
<text transform="translate(437.0,632.2) scale(0.9091,1) rotate(0.03)" font-size="8.14" fill="#111" color="#111" style="stroke-width:0.1px" text-anchor="middle" >Fed</text>
<rect x="471.3" y="614.5" width="45.2" height="33.5" fill="none" stroke="#555" stroke-width="0.9"/>
<text transform="translate(493.90000000000003,632.2) scale(0.9091,1) rotate(0.03)" font-size="8.14" fill="#111" color="#111" style="stroke-width:0.1px" text-anchor="middle" >Fed</text>
<rect x="414.4" y="659.7" width="45.2" height="33.5" fill="none" stroke="#555" stroke-width="0.9"/>
<text transform="translate(437.0,677.4000000000001) scale(0.9091,1) rotate(0.03)" font-size="8.14" fill="#111" color="#111" style="stroke-width:0.1px" text-anchor="middle" >OA</text>
<rect x="471.3" y="659.7" width="45.2" height="33.5" fill="none" stroke="#555" stroke-width="0.9"/>
<text transform="translate(493.90000000000003,677.4000000000001) scale(0.9091,1) rotate(0.03)" font-size="8.14" fill="#111" color="#111" style="stroke-width:0.1px" text-anchor="middle" >OA</text>
<rect x="414.4" y="704.7" width="45.2" height="33.5" fill="none" stroke="#555" stroke-width="0.9"/>
<text transform="translate(437.0,722.4000000000001) scale(0.9091,1) rotate(0.03)" font-size="8.14" fill="#111" color="#111" style="stroke-width:0.1px" text-anchor="middle" >OA + Fed</text>
<rect x="471.3" y="704.7" width="45.2" height="33.5" fill="none" stroke="#555" stroke-width="0.9"/>
<text transform="translate(493.90000000000003,722.4000000000001) scale(0.9091,1) rotate(0.03)" font-size="8.14" fill="#111" color="#111" style="stroke-width:0.1px" text-anchor="middle" >OA + Fed</text>
<line x1="521.5" y1="653.3" x2="563.42" y2="612.39" stroke="#111" stroke-width="0.9" />
<path d="M567.00,608.90 L564.52,614.95 L560.89,611.23Z" fill="#000"/>
<line x1="521.5" y1="653.3" x2="563.0" y2="653.3" stroke="#111" stroke-width="0.9" />
<path d="M568.00,653.30 L562.00,655.90 L562.00,650.70Z" fill="#000"/>
<line x1="521.5" y1="653.3" x2="563.42" y2="694.21" stroke="#111" stroke-width="0.9" />
<path d="M567.00,697.70 L560.89,695.37 L564.52,691.65Z" fill="#000"/>
<text transform="translate(628,600.3) scale(0.9091,1) rotate(0.03)" font-size="8.25" fill="#111" color="#111" style="stroke-width:0.1px" text-anchor="middle" >1 month in experimental tanks</text>
<text transform="translate(628,609.1999999999999) scale(0.9091,1) rotate(0.03)" font-size="8.25" fill="#111" color="#111" style="stroke-width:0.1px" text-anchor="middle" >6 - 17 Dec 2014</text>
<text transform="translate(628,618.1999999999999) scale(0.9091,1) rotate(0.03)" font-size="8.25" fill="#111" style="stroke-width:0.1px" text-anchor="middle" color="#111">96 <tspan font-style="italic">M. capitata</tspan>, 96 <tspan font-style="italic">P. compressa</tspan></text>
<text transform="translate(628,645) scale(0.9091,1) rotate(0.03)" font-size="8.25" fill="#111" color="#111" style="stroke-width:0.1px" text-anchor="middle" >7 months in experimental tanks</text>
<text transform="translate(628,653.9) scale(0.9091,1) rotate(0.03)" font-size="8.25" fill="#111" color="#111" style="stroke-width:0.1px" text-anchor="middle" >27 May - 7 June 2015</text>
<text transform="translate(628,662.9) scale(0.9091,1) rotate(0.03)" font-size="8.25" fill="#111" style="stroke-width:0.1px" text-anchor="middle" color="#111">96 <tspan font-style="italic">M. capitata</tspan>, 96 <tspan font-style="italic">P. compressa</tspan></text>
<text transform="translate(628,689.4) scale(0.9091,1) rotate(0.03)" font-size="8.25" fill="#111" color="#111" style="stroke-width:0.1px" text-anchor="middle" >12 months in experimental tanks</text>
<text transform="translate(628,698.3) scale(0.9091,1) rotate(0.03)" font-size="8.25" fill="#111" color="#111" style="stroke-width:0.1px" text-anchor="middle" >22 Nov - 3 Dec 2015</text>
<text transform="translate(628,707.3) scale(0.9091,1) rotate(0.03)" font-size="8.25" fill="#111" style="stroke-width:0.1px" text-anchor="middle" color="#111">96 <tspan font-style="italic">M. capitata</tspan>, 96 <tspan font-style="italic">P. compressa</tspan></text>
</svg></body></html>
